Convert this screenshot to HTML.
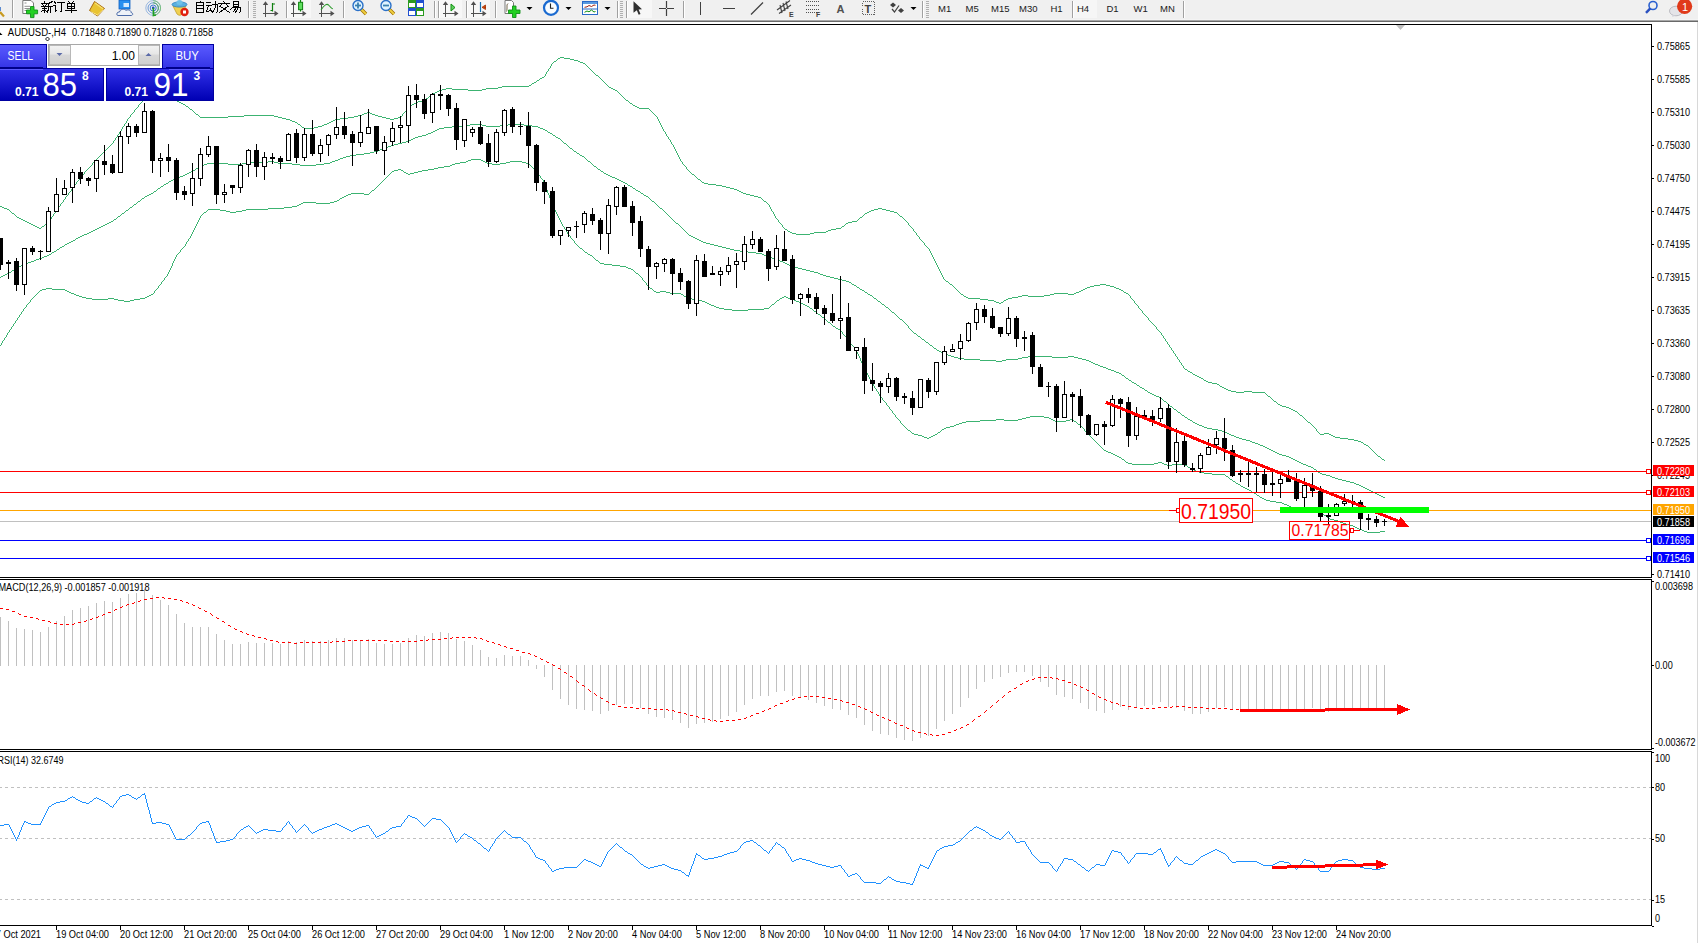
<!DOCTYPE html>
<html><head><meta charset="utf-8"><title>MT4 AUDUSD H4</title>
<style>html,body{margin:0;padding:0;background:#fff;width:1698px;height:943px;overflow:hidden}
#panel{position:absolute;left:0;top:44px;width:214px;height:57px;font-family:"Liberation Sans",sans-serif}</style></head>
<body style="position:relative">
<svg width="1698" height="943" viewBox="0 0 1698 943" font-family="Liberation Sans, sans-serif" shape-rendering="crispEdges" style="display:block">
<rect x="0" y="0" width="1698" height="943" fill="#fff"/>
<rect x="0" y="0" width="1698" height="20" fill="#f0f0f0"/>
<rect x="0" y="19" width="1698" height="1" fill="#f4f4f4"/>
<rect x="0" y="20" width="1698" height="1" fill="#a8a8a8"/>
<rect x="0" y="21" width="1698" height="1" fill="#696969"/>
<g shape-rendering="auto"><line x1="0" y1="12" x2="4" y2="16.5" stroke="#c89a20" stroke-width="2.2"/><rect x="0" y="7" width="1" height="4" fill="#5a8ad0"/></g><rect x="12" y="0" width="1" height="18" fill="#a0a0a0"/><rect x="13" y="0" width="1" height="18" fill="#ffffff"/><g shape-rendering="auto"><path d="M22.8,0.5 H31 L33.5,3 V13.5 H22.8 Z" fill="#fff" stroke="#7a7a7a" stroke-width="1"/><path d="M24.5,3 H26.5 M24.5,6.3 H30 M24.5,8.5 H30 M24.5,10.5 H27" stroke="#909090" stroke-width="1"/><path d="M30.5,6.5 H34 V10 H37.6 V13.8 H34 V17.6 H30.5 V13.8 H26.5 V10 H30.5 Z" fill="#22d022" stroke="#10901a" stroke-width="0.9"/></g><path transform="translate(41.5,1.5)" d="M3,0 V1 M0,2 H6 M1,3 L2,4 M5,3 L4,4 M0,5 H6 M1,7 H5 M3,5 V11 M3,8 L0,10 M3,8 L5,10 M11,0 L7,2 V7 L6,11 M7,5 H11 M9,5 V11" fill="none" stroke="#000" stroke-width="1" stroke-linecap="square" shape-rendering="crispEdges"/><path transform="translate(53.5,1.5)" d="M1,0 L2,2 M0,4 H2 V10 L3,9 M4,1 H11 M8,1 V10 L7,10" fill="none" stroke="#000" stroke-width="1" stroke-linecap="square" shape-rendering="crispEdges"/><path transform="translate(65.5,1.5)" d="M3,0 L4,1 M8,0 L7,1 M2,2 H9 V7 H2 Z M2,4.5 H9 M5.5,2 V11 M0,9 H11" fill="none" stroke="#000" stroke-width="1" stroke-linecap="square" shape-rendering="crispEdges"/><g shape-rendering="auto"><path d="M89.5,10.5 L94.5,1.5 L104.5,8.5 L97.5,16 Z" fill="#e9c332" stroke="#a86a10" stroke-width="1"/><path d="M90.5,11.5 L97.5,15 L103.5,9.5" fill="none" stroke="#fff2a0" stroke-width="0.8"/><path d="M95,3 L103,8.8" stroke="#f8e070" stroke-width="1.2"/></g><g shape-rendering="auto"><rect x="119" y="0" width="11" height="9" fill="#2a90f0" stroke="#1060c0" stroke-width="0.8"/><rect x="123.5" y="3" width="5.5" height="4" fill="#d8ecff"/><path d="M118,15.5 C116,15.5 116.5,11.5 119.5,12 C120,9 124.5,8.5 126,10.5 C128,9 131.5,10.5 131,12.5 C133.5,13 133,15.5 131,15.5 Z" fill="#eef2f8" stroke="#4a6aa8" stroke-width="1"/></g><g shape-rendering="auto" fill="none" stroke-width="1"><circle cx="153.2" cy="8" r="7.4" stroke="#9ab8e0"/><circle cx="153.2" cy="8" r="5.2" stroke="#6a98d8"/><circle cx="153.2" cy="8" r="3" stroke="#3a78d0"/><path d="M153.2,0.6 A7.4,7.4 0 0 1 153.2,15.4" stroke="#7ac080"/><path d="M153.2,2.8 A5.2,5.2 0 0 1 153.2,13.2" stroke="#50a860"/><circle cx="153.2" cy="8" r="1.4" fill="#2050c0" stroke="none"/><path d="M153.4,8 V15.5 L156,15" stroke="#20a020" stroke-width="1.6"/></g><g shape-rendering="auto"><path d="M173,6 L186,6 L181,15 Q179,16 177,14 Z" fill="#f0d050" stroke="#c0a030" stroke-width="0.8"/><ellipse cx="179.5" cy="4.5" rx="7.5" ry="2.6" fill="#5ab0e0" stroke="#2a80c0" stroke-width="0.8"/><ellipse cx="179.5" cy="2.5" rx="3" ry="2.5" fill="#70c0e8"/><circle cx="184.5" cy="12" r="4.2" fill="#e02010"/><rect x="183" y="10.5" width="3" height="3" fill="#fff"/></g><path transform="translate(194.5,1.5)" d="M6,0 L5,1 M2,1 H9 V11 H2 Z M2,4 H9 M2,7 H9" fill="none" stroke="#000" stroke-width="1" stroke-linecap="square" shape-rendering="crispEdges"/><path transform="translate(206.5,1.5)" d="M0,1 H4 M0,4 H5 M2,4 L0,10 L5,9 M4,7 L5,10 M6,3 H11 V10 L10,11 M9,0 V6 L6,11" fill="none" stroke="#000" stroke-width="1" stroke-linecap="square" shape-rendering="crispEdges"/><path transform="translate(218.5,1.5)" d="M5,0 L6,1 M0,2 H11 M3,3 L1,5 M8,3 L10,5 M9,5 L1,11 M2,5 L11,11" fill="none" stroke="#000" stroke-width="1" stroke-linecap="square" shape-rendering="crispEdges"/><path transform="translate(230.5,1.5)" d="M3,0 H8 V5 H3 Z M3,2.5 H8 M3,5 L0,8 M3,6 H10 V10 L9,11 M6,6 L3,10 M8,6 L5,11" fill="none" stroke="#000" stroke-width="1" stroke-linecap="square" shape-rendering="crispEdges"/><rect x="248" y="1" width="1" height="17" fill="#a0a0a0"/><rect x="249" y="1" width="1" height="17" fill="#ffffff"/><rect x="253" y="1" width="3" height="1" fill="#b0b0b0"/><rect x="253" y="3" width="3" height="1" fill="#b0b0b0"/><rect x="253" y="5" width="3" height="1" fill="#b0b0b0"/><rect x="253" y="7" width="3" height="1" fill="#b0b0b0"/><rect x="253" y="9" width="3" height="1" fill="#b0b0b0"/><rect x="253" y="11" width="3" height="1" fill="#b0b0b0"/><rect x="253" y="13" width="3" height="1" fill="#b0b0b0"/><rect x="253" y="15" width="3" height="1" fill="#b0b0b0"/><rect x="253" y="17" width="3" height="1" fill="#b0b0b0"/><rect x="265" y="2" width="1" height="15" fill="#505050"/><rect x="263" y="13" width="15" height="1" fill="#505050"/><polygon points="262.8,5 265.5,1.2 268.2,5" fill="#505050" shape-rendering="auto"/><polygon points="274.5,10.8 278.5,13.5 274.5,16.2" fill="#505050" shape-rendering="auto"/><path d="M272.5,4 H275 M272.5,3 V11.5 M270.5,10.5 H272.5" stroke="#108010" stroke-width="1.2" fill="none" shape-rendering="auto"/><rect x="286" y="1" width="1" height="17" fill="#a0a0a0"/><rect x="287" y="1" width="1" height="17" fill="#ffffff"/><rect x="288" y="0" width="23" height="18" fill="#f7f7f7"/><rect x="293" y="2" width="1" height="15" fill="#505050"/><rect x="291" y="13" width="15" height="1" fill="#505050"/><polygon points="290.8,5 293.5,1.2 296.2,5" fill="#505050" shape-rendering="auto"/><polygon points="302.5,10.8 306.5,13.5 302.5,16.2" fill="#505050" shape-rendering="auto"/><g shape-rendering="auto"><path d="M300.5,0 V2.5 M300.5,9.5 V11.5" stroke="#108010" stroke-width="1.2"/><rect x="298.6" y="2.3" width="4" height="7.4" fill="#60e060" stroke="#108010" stroke-width="1"/></g><rect x="321" y="2" width="1" height="15" fill="#505050"/><rect x="319" y="13" width="15" height="1" fill="#505050"/><polygon points="318.8,5 321.5,1.2 324.2,5" fill="#505050" shape-rendering="auto"/><polygon points="330.5,10.8 334.5,13.5 330.5,16.2" fill="#505050" shape-rendering="auto"/><path d="M321,10 Q326,2 329,5.5 T333,8.8" stroke="#2a9a2a" stroke-width="1.1" fill="none" shape-rendering="auto"/><rect x="343" y="1" width="1" height="17" fill="#a0a0a0"/><rect x="344" y="1" width="1" height="17" fill="#ffffff"/><g shape-rendering="auto"><line x1="361" y1="9" x2="366" y2="14" stroke="#a07000" stroke-width="3.4"/><line x1="361" y1="9" x2="366" y2="14" stroke="#f0d040" stroke-width="1.8"/><circle cx="358" cy="5.5" r="5" fill="#dff3ff" stroke="#2a70c8" stroke-width="1.4"/><rect x="355" y="4.6" width="6" height="1.8" fill="#3a80b0"/><rect x="357.1" y="2.5" width="1.8" height="6" fill="#3a80b0"/></g><g shape-rendering="auto"><line x1="389" y1="9" x2="394" y2="14" stroke="#a07000" stroke-width="3.4"/><line x1="389" y1="9" x2="394" y2="14" stroke="#f0d040" stroke-width="1.8"/><circle cx="386" cy="5.5" r="5" fill="#dff3ff" stroke="#2a70c8" stroke-width="1.4"/><rect x="383" y="4.6" width="6" height="1.8" fill="#3a80b0"/></g><g><rect x="408" y="0" width="8" height="8" fill="#2a9a20"/><rect x="409" y="3" width="6" height="4" fill="#fff"/><rect x="416" y="0" width="8" height="8" fill="#2050d0"/><rect x="417" y="3" width="6" height="4" fill="#fff"/><rect x="408" y="8" width="8" height="8" fill="#2050d0"/><rect x="409" y="11" width="6" height="4" fill="#fff"/><rect x="416" y="8" width="8" height="8" fill="#2a9a20"/><rect x="417" y="11" width="6" height="4" fill="#fff"/></g><rect x="434" y="1" width="1" height="17" fill="#a0a0a0"/><rect x="435" y="1" width="1" height="17" fill="#ffffff"/><rect x="438" y="1" width="1" height="17" fill="#a0a0a0"/><rect x="439" y="1" width="1" height="17" fill="#ffffff"/><rect x="440" y="0" width="22" height="18" fill="#f7f7f7"/><rect x="445" y="2" width="1" height="15" fill="#505050"/><rect x="443" y="13" width="15" height="1" fill="#505050"/><polygon points="442.8,5 445.5,1.2 448.2,5" fill="#505050" shape-rendering="auto"/><polygon points="454.5,10.8 458.5,13.5 454.5,16.2" fill="#505050" shape-rendering="auto"/><polygon points="451,4 455,7.5 451,11" fill="#60d060" stroke="#109010" stroke-width="1" shape-rendering="auto"/><rect x="466" y="1" width="1" height="17" fill="#a0a0a0"/><rect x="467" y="1" width="1" height="17" fill="#ffffff"/><rect x="468" y="0" width="22" height="18" fill="#f7f7f7"/><rect x="473" y="2" width="1" height="15" fill="#505050"/><rect x="471" y="13" width="15" height="1" fill="#505050"/><polygon points="470.8,5 473.5,1.2 476.2,5" fill="#505050" shape-rendering="auto"/><polygon points="482.5,10.8 486.5,13.5 482.5,16.2" fill="#505050" shape-rendering="auto"/><g shape-rendering="auto"><path d="M480.5,2 V12" stroke="#1a70b0" stroke-width="1.2"/><path d="M482,7.3 L485.5,5 V9.5 Z M484,7.3 H486" fill="#e05010" stroke="#a03000" stroke-width="0.8"/></g><rect x="495" y="1" width="1" height="17" fill="#a0a0a0"/><rect x="496" y="1" width="1" height="17" fill="#ffffff"/><g shape-rendering="auto"><path d="M505,0.5 H511.5 L513.5,2.5 V13.5 H505 Z" fill="#fff" stroke="#7a7a7a" stroke-width="1"/><path d="M508,3.5 Q506.5,4 507,8 Q507,11 506.5,11.5" stroke="#504020" stroke-width="0.8" fill="none"/><path d="M512.5,6 H516 V10 H520 V13.5 H516 V17.5 H512.5 V13.5 H508.5 V10 H512.5 Z" fill="#22d022" stroke="#10901a" stroke-width="0.9"/></g><polygon points="526.5,7 532.5,7 529.5,10" fill="#000" shape-rendering="auto"/><g shape-rendering="auto"><circle cx="551" cy="7.8" r="7" fill="#f8fcff" stroke="#1a6ad0" stroke-width="2.2"/><path d="M550.5,3.5 V8.2 H553.5" stroke="#202020" stroke-width="1.1" fill="none"/><rect x="549" y="0" width="4" height="1.2" fill="#1a6ad0"/></g><polygon points="565.5,7 571.5,7 568.5,10" fill="#000" shape-rendering="auto"/><g shape-rendering="auto"><rect x="582.5" y="1.5" width="15" height="13" fill="#fff" stroke="#2a6ac8" stroke-width="1"/><rect x="583" y="2" width="14" height="2" fill="#5a9ae0"/><path d="M583,9 H597" stroke="#2a6ac8" stroke-width="1"/><path d="M584.5,7.3 L587,6.8 L589,5.5 L591.5,6.5 L594,5 L595.5,5.3" stroke="#a02010" stroke-width="1" fill="none"/><path d="M584.5,12.3 L587,11 L589,11.8 L591.5,10 L594,12 L595.5,11.5" stroke="#109010" stroke-width="1" fill="none"/></g><polygon points="604.5,7 610.5,7 607.5,10" fill="#000" shape-rendering="auto"/><rect x="617" y="1" width="1" height="17" fill="#a0a0a0"/><rect x="618" y="1" width="1" height="17" fill="#ffffff"/><rect x="620" y="1" width="3" height="1" fill="#b0b0b0"/><rect x="620" y="3" width="3" height="1" fill="#b0b0b0"/><rect x="620" y="5" width="3" height="1" fill="#b0b0b0"/><rect x="620" y="7" width="3" height="1" fill="#b0b0b0"/><rect x="620" y="9" width="3" height="1" fill="#b0b0b0"/><rect x="620" y="11" width="3" height="1" fill="#b0b0b0"/><rect x="620" y="13" width="3" height="1" fill="#b0b0b0"/><rect x="620" y="15" width="3" height="1" fill="#b0b0b0"/><rect x="620" y="17" width="3" height="1" fill="#b0b0b0"/><rect x="626" y="1" width="1" height="17" fill="#a0a0a0"/><rect x="627" y="1" width="1" height="17" fill="#ffffff"/><rect x="628" y="0" width="24" height="18" fill="#f7f7f7"/><path d="M633.5,1.3 L642,9.2 L638.6,9.5 L640.5,14 L638.7,14.8 L636.8,10.3 L633.5,12.8 Z" fill="#303030" shape-rendering="auto"/><path d="M666.5,1 V16 M659,8.5 H674" stroke="#404040" stroke-width="1.2" shape-rendering="auto"/><rect x="666" y="8" width="1" height="1" fill="#f0f0f0"/><rect x="683" y="1" width="1" height="17" fill="#a0a0a0"/><rect x="684" y="1" width="1" height="17" fill="#ffffff"/><rect x="700" y="2" width="1.4" height="13" fill="#404040"/><rect x="723" y="7.6" width="12" height="1.4" fill="#404040"/><path d="M751,14.5 L763,2.5" stroke="#404040" stroke-width="1.3" shape-rendering="auto"/><g shape-rendering="auto" stroke="#404040" stroke-width="1.1" fill="none"><path d="M777,10 L790,0.5 M779,13.5 L791,5 M780,5 L782,13 M783,3 L785,11 M786,1.5 L788,9"/></g><text x="789" y="17" font-size="7" font-weight="bold" fill="#404040">E</text><g><rect x="806" y="1" width="1" height="1" fill="#505050"/><rect x="808" y="1" width="1" height="1" fill="#505050"/><rect x="810" y="1" width="1" height="1" fill="#505050"/><rect x="812" y="1" width="1" height="1" fill="#505050"/><rect x="814" y="1" width="1" height="1" fill="#505050"/><rect x="816" y="1" width="1" height="1" fill="#505050"/><rect x="818" y="1" width="1" height="1" fill="#505050"/><rect x="806" y="5" width="1" height="1" fill="#505050"/><rect x="808" y="5" width="1" height="1" fill="#505050"/><rect x="810" y="5" width="1" height="1" fill="#505050"/><rect x="812" y="5" width="1" height="1" fill="#505050"/><rect x="814" y="5" width="1" height="1" fill="#505050"/><rect x="816" y="5" width="1" height="1" fill="#505050"/><rect x="818" y="5" width="1" height="1" fill="#505050"/><rect x="806" y="9" width="1" height="1" fill="#505050"/><rect x="808" y="9" width="1" height="1" fill="#505050"/><rect x="810" y="9" width="1" height="1" fill="#505050"/><rect x="812" y="9" width="1" height="1" fill="#505050"/><rect x="814" y="9" width="1" height="1" fill="#505050"/><rect x="816" y="9" width="1" height="1" fill="#505050"/><rect x="818" y="9" width="1" height="1" fill="#505050"/><rect x="806" y="12" width="1" height="1" fill="#505050"/><rect x="808" y="12" width="1" height="1" fill="#505050"/><rect x="810" y="12" width="1" height="1" fill="#505050"/><rect x="812" y="12" width="1" height="1" fill="#505050"/><rect x="814" y="12" width="1" height="1" fill="#505050"/><rect x="816" y="12" width="1" height="1" fill="#505050"/><rect x="818" y="12" width="1" height="1" fill="#505050"/></g><text x="816" y="17" font-size="7" font-weight="bold" fill="#404040">F</text><text x="836.5" y="13" font-size="11" font-weight="bold" fill="#505050">A</text><rect x="862.5" y="1.5" width="12" height="13" fill="none" stroke="#606060" stroke-width="1" stroke-dasharray="1 1"/><text x="864.5" y="12.8" font-size="11" font-weight="bold" fill="#404040">T</text><g shape-rendering="auto" fill="#404040"><polygon points="890,5 893,2.5 896,5 893,7.5"/><polygon points="898,10.5 901,8 904,10.5 901,13"/><path d="M892,9 L894.5,12 L899,5.5" stroke="#404040" stroke-width="1.2" fill="none"/></g><polygon points="910.5,7 916.5,7 913.5,10" fill="#000" shape-rendering="auto"/><rect x="922" y="1" width="1" height="17" fill="#a0a0a0"/><rect x="923" y="1" width="1" height="17" fill="#ffffff"/><rect x="926" y="1" width="3" height="1" fill="#b0b0b0"/><rect x="926" y="3" width="3" height="1" fill="#b0b0b0"/><rect x="926" y="5" width="3" height="1" fill="#b0b0b0"/><rect x="926" y="7" width="3" height="1" fill="#b0b0b0"/><rect x="926" y="9" width="3" height="1" fill="#b0b0b0"/><rect x="926" y="11" width="3" height="1" fill="#b0b0b0"/><rect x="926" y="13" width="3" height="1" fill="#b0b0b0"/><rect x="926" y="15" width="3" height="1" fill="#b0b0b0"/><rect x="926" y="17" width="3" height="1" fill="#b0b0b0"/><text x="938" y="12" font-size="9.5" fill="#202020">M1</text><text x="965.5" y="12" font-size="9.5" fill="#202020">M5</text><text x="991" y="12" font-size="9.5" fill="#202020">M15</text><text x="1019" y="12" font-size="9.5" fill="#202020">M30</text><text x="1050.5" y="12" font-size="9.5" fill="#202020">H1</text><rect x="1072" y="1" width="1" height="17" fill="#a0a0a0"/><rect x="1073" y="1" width="1" height="17" fill="#ffffff"/><rect x="1074" y="0" width="23" height="18" fill="#f6f6f6"/><text x="1077" y="12" font-size="9.5" fill="#202020">H4</text><text x="1106.5" y="12" font-size="9.5" fill="#202020">D1</text><text x="1133.5" y="12" font-size="9.5" fill="#202020">W1</text><text x="1160" y="12" font-size="9.5" fill="#202020">MN</text><rect x="1183" y="1" width="1" height="17" fill="#a0a0a0"/><rect x="1184" y="1" width="1" height="17" fill="#ffffff"/><g shape-rendering="auto"><circle cx="1653" cy="5.5" r="4" fill="none" stroke="#2a60d0" stroke-width="1.6"/><line x1="1650.3" y1="8.3" x2="1646" y2="12.8" stroke="#2a50c0" stroke-width="2.4"/></g><g shape-rendering="auto"><ellipse cx="1676" cy="11" rx="6.5" ry="4.8" fill="#e4e4e8" stroke="#b0b0b8" stroke-width="0.8"/><path d="M1673,15 L1672,17 L1676,15.5" fill="#d0d0d8"/><circle cx="1684.6" cy="6.3" r="7.6" fill="#e03a1a"/><text x="1682" y="10.6" font-size="11" fill="#fff">1</text></g>
<rect x="1697" y="22" width="1" height="921" fill="#d8d8d8"/>
<rect x="0" y="24" width="1652" height="1" fill="#000"/>
<rect x="1651" y="24" width="1" height="554" fill="#000"/>
<rect x="0" y="577" width="1652" height="1" fill="#000"/>
<rect x="0" y="579" width="1652" height="1" fill="#000"/>
<rect x="1651" y="579" width="1" height="171" fill="#000"/>
<rect x="0" y="749" width="1652" height="1" fill="#000"/>
<rect x="0" y="751" width="1652" height="1" fill="#000"/>
<rect x="1651" y="751" width="1" height="175" fill="#000"/>
<rect x="0" y="925" width="1652" height="1" fill="#000"/>
<polygon points="1396,25 1405,25 1400.5,30" fill="#c0c0c0" shape-rendering="auto"/>
<defs><clipPath id="cm"><rect x="0" y="25" width="1651" height="552"/></clipPath><clipPath id="cmacd"><rect x="0" y="580" width="1651" height="169"/></clipPath><clipPath id="crsi"><rect x="0" y="752" width="1651" height="173"/></clipPath></defs>
<g clip-path="url(#cm)">
<path d="M200,117h28v1h-28zM278,117h4v1h-4zM348,117h6v1h-6zM382,117h4v1h-4zM398,117h3v1h-3zM33,225h2v1h-2zM244,115h30v1h-30zM358,115h4v1h-4zM375,115h3v1h-3zM150,93h2v1h-2zM433,93h2v1h-2zM529,85h2v1h-2zM446,88h6v1h-6zM486,88h12v1h-12zM611,88h2v1h-2zM1320,434h4v1h-4zM1329,434h2v1h-2zM964,296h2v1h-2zM1018,296h4v1h-4zM1028,296h16v1h-16zM25,221h2v1h-2zM852,221h5v1h-5zM1054,293h14v1h-14zM1074,293h2v1h-2zM1126,293h2v1h-2zM181,103h2v1h-2zM414,103h2v1h-2zM630,103h2v1h-2zM502,86h27v1h-27zM1212,383h5v1h-5zM439,90h3v1h-3zM468,90h14v1h-14zM615,90h2v1h-2zM7,209h2v1h-2zM874,209h4v1h-4zM882,209h4v1h-4zM304,128h10v1h-10zM1204,380h2v1h-2zM292,121h3v1h-3zM331,121h2v1h-2zM367,112h3v1h-3zM1094,285h6v1h-6zM1106,285h4v1h-4zM968,298h12v1h-12zM1008,298h4v1h-4zM1348,439h6v1h-6zM422,100h3v1h-3zM626,100h2v1h-2zM298,124h2v1h-2zM324,124h3v1h-3zM156,91h8v1h-8zM437,91h2v1h-2zM228,116h16v1h-16zM274,116h4v1h-4zM354,116h4v1h-4zM378,116h4v1h-4zM152,92h4v1h-4zM164,92h5v1h-5zM435,92h2v1h-2zM785,229h2v1h-2zM831,229h5v1h-5zM900,216h2v1h-2zM828,230h3v1h-3zM637,107h2v1h-2zM302,127h2v1h-2zM314,127h4v1h-4zM580,62h3v1h-3zM29,223h2v1h-2zM46,223h2v1h-2zM846,223h2v1h-2zM318,126h4v1h-4zM1278,404h2v1h-2zM583,63h2v1h-2zM31,224h2v1h-2zM23,220h2v1h-2zM1236,392h8v1h-8zM1252,392h13v1h-13zM1280,405h2v1h-2zM741,192h2v1h-2zM639,108h10v1h-10zM190,109h2v1h-2zM560,57h4v1h-4zM540,78h2v1h-2zM1022,295h6v1h-6zM1044,295h6v1h-6zM1340,438h8v1h-8zM1081,290h2v1h-2zM1121,290h2v1h-2zM1079,291h2v1h-2zM1087,287h3v1h-3zM1114,287h2v1h-2zM35,226h2v1h-2zM42,226h2v1h-2zM842,226h2v1h-2zM1217,384h2v1h-2zM726,187h4v1h-4zM4,208h3v1h-3zM878,208h4v1h-4zM282,118h4v1h-4zM340,118h8v1h-8zM386,118h4v1h-4zM394,118h4v1h-4zM980,299h8v1h-8zM1006,299h2v1h-2zM950,284h2v1h-2zM1100,284h6v1h-6zM1274,401h2v1h-2zM290,120h2v1h-2zM333,120h2v1h-2zM633,105h2v1h-2zM177,101h2v1h-2zM418,101h4v1h-4zM746,194h4v1h-4zM558,58h2v1h-2zM564,58h6v1h-6zM1085,288h2v1h-2zM1116,288h3v1h-3zM1231,391h5v1h-5zM1244,391h8v1h-8zM966,297h2v1h-2zM1012,297h6v1h-6zM1083,289h2v1h-2zM1119,289h2v1h-2zM19,218h2v1h-2zM996,302h3v1h-3zM1001,302h2v1h-2zM596,75h2v1h-2zM716,185h6v1h-6zM871,210h3v1h-3zM886,210h4v1h-4zM179,102h2v1h-2zM416,102h2v1h-2zM792,233h4v1h-4zM810,233h4v1h-4zM286,119h4v1h-4zM335,119h5v1h-5zM390,119h4v1h-4zM869,211h2v1h-2zM890,211h4v1h-4zM961,294h2v1h-2zM1050,294h4v1h-4zM1068,294h6v1h-6zM196,114h2v1h-2zM362,114h2v1h-2zM372,114h3v1h-3zM534,82h2v1h-2zM442,89h4v1h-4zM452,89h16v1h-16zM482,89h4v1h-4zM613,89h2v1h-2zM788,231h2v1h-2zM826,231h2v1h-2zM186,106h2v1h-2zM409,106h2v1h-2zM635,106h2v1h-2zM1197,376h2v1h-2zM430,95h2v1h-2zM946,281h2v1h-2zM327,123h2v1h-2zM754,196h4v1h-4zM698,179h2v1h-2zM1090,286h4v1h-4zM1110,286h4v1h-4zM322,125h2v1h-2zM1286,407h3v1h-3zM17,217h2v1h-2zM860,217h2v1h-2zM790,232h2v1h-2zM814,232h12v1h-12zM708,184h8v1h-8zM1185,369h2v1h-2zM12,213h2v1h-2zM865,213h2v1h-2zM730,188h4v1h-4zM867,212h2v1h-2zM894,212h3v1h-3zM1208,382h4v1h-4zM692,174h2v1h-2zM988,300h6v1h-6zM1004,300h2v1h-2zM1324,433h5v1h-5zM574,60h4v1h-4zM554,61h2v1h-2zM578,61h2v1h-2zM364,113h3v1h-3zM370,113h2v1h-2zM0,206h2v1h-2zM1188,371h2v1h-2zM426,98h2v1h-2zM1076,292h3v1h-3zM1124,292h2v1h-2zM1220,386h2v1h-2zM183,104h2v1h-2zM412,104h2v1h-2zM21,219h2v1h-2zM27,222h2v1h-2zM848,222h4v1h-4zM146,96h2v1h-2zM498,87h4v1h-4zM609,87h2v1h-2zM542,77h2v1h-2zM295,122h2v1h-2zM329,122h2v1h-2zM796,234h14v1h-14zM537,80h2v1h-2zM739,191h2v1h-2zM1199,377h2v1h-2zM1201,378h2v1h-2zM1193,374h2v1h-2zM39,228h2v1h-2zM836,228h5v1h-5zM994,301h2v1h-2zM1361,442h2v1h-2zM1289,408h2v1h-2zM570,59h4v1h-4zM758,197h3v1h-3zM743,193h3v1h-3zM734,189h3v1h-3zM737,190h2v1h-2zM1206,381h2v1h-2zM2,207h2v1h-2zM1366,445h2v1h-2zM1358,441h3v1h-3zM704,183h4v1h-4zM37,227h2v1h-2zM1295,411h2v1h-2zM1335,437h5v1h-5zM1364,444h2v1h-2zM1190,372h2v1h-2zM1293,410h2v1h-2zM750,195h4v1h-4zM1333,436h2v1h-2zM999,303h2v1h-2zM1195,375h2v1h-2zM764,201h2v1h-2zM1308,422h2v1h-2zM1354,440h4v1h-4zM1382,459h2v1h-2zM1300,415h2v1h-2zM1378,456h2v1h-2zM1224,388h2v1h-2zM722,186h4v1h-4zM1291,409h2v1h-2zM1331,435h2v1h-2zM702,182h2v1h-2zM1228,390h3v1h-3zM1222,387h2v1h-2zM1226,389h2v1h-2zM532,83h2v1h-2zM1282,406h4v1h-4zM1268,396h2v1h-2zM129,117h1v1h-1zM657,117h1v2h-1zM44,225h1v1h-1zM782,225h1v2h-1zM844,225h1v1h-1zM909,225h1v1h-1zM130,115h1v2h-1zM198,115h1v1h-1zM402,114h1v2h-1zM655,115h1v1h-1zM169,93h1v1h-1zM619,93h1v1h-1zM607,85h1v1h-1zM1130,296h1v2h-1zM49,220h1v2h-1zM778,220h1v2h-1zM906,221h1v1h-1zM920,239h1v1h-1zM960,293h1v1h-1zM140,103h1v1h-1zM608,86h1v1h-1zM550,66h1v2h-1zM587,66h1v1h-1zM57,208h1v2h-1zM771,209h1v2h-1zM122,127h1v2h-1zM662,127h1v2h-1zM126,121h1v2h-1zM659,121h1v2h-1zM143,99h1v1h-1zM175,99h1v1h-1zM425,99h1v1h-1zM625,99h1v1h-1zM133,112h1v1h-1zM194,112h1v1h-1zM404,112h1v1h-1zM652,112h1v1h-1zM952,285h1v1h-1zM1131,298h1v1h-1zM86,170h1v1h-1zM688,170h1v1h-1zM142,100h1v2h-1zM176,100h1v1h-1zM124,124h1v2h-1zM660,123h1v2h-1zM617,91h1v1h-1zM199,116h1v1h-1zM401,116h1v1h-1zM656,116h1v1h-1zM117,135h1v2h-1zM666,134h1v2h-1zM618,92h1v1h-1zM913,229h1v2h-1zM16,216h1v1h-1zM52,216h1v1h-1zM775,216h1v2h-1zM862,216h1v1h-1zM98,157h1v1h-1zM679,157h1v2h-1zM787,230h1v1h-1zM1153,324h1v1h-1zM137,107h1v1h-1zM188,107h1v1h-1zM408,107h1v1h-1zM1163,336h1v2h-1zM930,251h1v2h-1zM553,62h1v1h-1zM780,223h1v1h-1zM908,223h1v2h-1zM1317,431h1v1h-1zM123,126h1v1h-1zM301,126h1v1h-1zM661,125h1v2h-1zM548,69h1v2h-1zM590,69h1v1h-1zM1164,338h1v1h-1zM1167,342h1v2h-1zM552,63h1v1h-1zM45,224h1v1h-1zM781,224h1v1h-1zM845,224h1v1h-1zM857,220h1v1h-1zM905,220h1v1h-1zM1181,363h1v2h-1zM69,192h1v1h-1zM136,108h1v1h-1zM189,108h1v1h-1zM407,108h1v1h-1zM99,156h1v1h-1zM678,155h1v2h-1zM135,109h1v1h-1zM406,109h1v2h-1zM649,109h1v1h-1zM948,282h1v1h-1zM78,180h1v1h-1zM700,180h1v1h-1zM93,162h1v1h-1zM682,162h1v2h-1zM600,78h1v1h-1zM963,295h1v1h-1zM1129,295h1v1h-1zM957,290h1v1h-1zM15,215h1v1h-1zM53,214h1v2h-1zM774,214h1v2h-1zM863,215h1v1h-1zM899,215h1v1h-1zM1144,314h1v1h-1zM958,291h1v1h-1zM1123,291h1v1h-1zM954,287h1v1h-1zM116,137h1v1h-1zM668,137h1v2h-1zM551,64h1v2h-1zM586,65h1v1h-1zM910,226h1v1h-1zM73,186h1v2h-1zM770,207h1v2h-1zM128,118h1v1h-1zM1132,299h1v1h-1zM112,143h1v1h-1zM671,142h1v2h-1zM107,148h1v1h-1zM674,147h1v2h-1zM127,119h1v2h-1zM658,119h1v2h-1zM138,105h1v2h-1zM185,105h1v1h-1zM411,105h1v1h-1zM628,101h1v1h-1zM68,193h1v2h-1zM955,288h1v1h-1zM956,289h1v1h-1zM51,217h1v2h-1zM776,218h1v1h-1zM859,218h1v1h-1zM903,218h1v1h-1zM115,138h1v2h-1zM669,139h1v1h-1zM1315,428h1v1h-1zM1165,339h1v2h-1zM1134,301h1v2h-1zM1155,326h1v1h-1zM121,129h1v2h-1zM663,129h1v2h-1zM1169,345h1v2h-1zM545,74h1v2h-1zM74,185h1v1h-1zM9,210h1v1h-1zM56,210h1v1h-1zM141,102h1v1h-1zM629,102h1v1h-1zM96,159h1v1h-1zM680,159h1v2h-1zM916,233h1v2h-1zM10,211h1v1h-1zM55,211h1v2h-1zM772,211h1v1h-1zM1128,294h1v1h-1zM91,165h1v1h-1zM684,165h1v1h-1zM131,114h1v1h-1zM654,114h1v1h-1zM604,82h1v1h-1zM1146,316h1v1h-1zM1147,317h1v1h-1zM914,231h1v1h-1zM924,243h1v2h-1zM925,245h1v1h-1zM1266,394h1v1h-1zM110,145h1v1h-1zM673,145h1v2h-1zM148,95h1v1h-1zM171,95h1v1h-1zM621,95h1v1h-1zM125,123h1v1h-1zM297,123h1v1h-1zM66,196h1v1h-1zM134,110h1v2h-1zM192,110h1v1h-1zM650,110h1v1h-1zM79,178h1v2h-1zM149,94h1v1h-1zM170,94h1v1h-1zM432,94h1v1h-1zM620,94h1v1h-1zM953,286h1v1h-1zM300,125h1v1h-1zM937,265h1v2h-1zM902,217h1v1h-1zM915,232h1v1h-1zM75,184h1v1h-1zM938,267h1v2h-1zM85,171h1v1h-1zM689,171h1v1h-1zM89,167h1v1h-1zM686,167h1v2h-1zM1148,318h1v2h-1zM54,213h1v1h-1zM773,212h1v2h-1zM897,213h1v1h-1zM97,158h1v1h-1zM1149,320h1v1h-1zM549,68h1v1h-1zM589,68h1v1h-1zM72,188h1v1h-1zM113,141h1v2h-1zM11,212h1v1h-1zM108,147h1v1h-1zM109,146h1v1h-1zM83,174h1v1h-1zM1133,300h1v1h-1zM61,203h1v1h-1zM767,203h1v1h-1zM1319,433h1v1h-1zM556,60h1v1h-1zM1203,379h1v1h-1zM1368,446h1v1h-1zM132,113h1v1h-1zM195,113h1v1h-1zM403,113h1v1h-1zM653,113h1v1h-1zM59,206h1v1h-1zM769,205h1v2h-1zM193,111h1v1h-1zM405,111h1v1h-1zM651,111h1v1h-1zM144,98h1v1h-1zM174,98h1v1h-1zM624,98h1v1h-1zM959,292h1v1h-1zM14,214h1v1h-1zM864,214h1v1h-1zM898,214h1v1h-1zM531,84h1v1h-1zM606,84h1v1h-1zM1151,322h1v1h-1zM918,236h1v1h-1zM139,104h1v1h-1zM632,104h1v1h-1zM50,219h1v1h-1zM777,219h1v1h-1zM858,219h1v1h-1zM904,219h1v1h-1zM547,71h1v1h-1zM592,71h1v1h-1zM929,249h1v2h-1zM1176,356h1v1h-1zM1179,360h1v2h-1zM48,222h1v1h-1zM779,222h1v1h-1zM907,222h1v1h-1zM1180,362h1v1h-1zM84,172h1v2h-1zM690,172h1v1h-1zM697,178h1v1h-1zM172,96h1v1h-1zM429,96h1v1h-1zM622,96h1v1h-1zM1273,400h1v1h-1zM599,77h1v1h-1zM103,152h1v1h-1zM676,151h1v2h-1zM602,80h1v1h-1zM70,191h1v1h-1zM1313,426h1v1h-1zM927,247h1v1h-1zM931,253h1v2h-1zM546,72h1v2h-1zM594,73h1v1h-1zM1182,365h1v1h-1zM92,163h1v2h-1zM784,228h1v1h-1zM912,228h1v1h-1zM683,164h1v1h-1zM1003,301h1v1h-1zM1145,315h1v1h-1zM670,140h1v2h-1zM105,150h1v1h-1zM675,149h1v2h-1zM120,131h1v1h-1zM664,131h1v1h-1zM1166,341h1v1h-1zM667,136h1v1h-1zM1170,347h1v1h-1zM557,59h1v1h-1zM94,161h1v1h-1zM681,161h1v1h-1zM940,271h1v2h-1zM65,197h1v2h-1zM1136,304h1v1h-1zM71,189h1v2h-1zM588,67h1v1h-1zM58,207h1v1h-1zM102,153h1v1h-1zM677,153h1v2h-1zM95,160h1v1h-1zM1318,432h1v1h-1zM119,132h1v2h-1zM665,132h1v2h-1zM1168,344h1v1h-1zM90,166h1v1h-1zM685,166h1v1h-1zM1172,350h1v1h-1zM939,269h1v2h-1zM88,168h1v1h-1zM76,182h1v2h-1zM87,169h1v1h-1zM687,169h1v1h-1zM41,227h1v1h-1zM783,227h1v1h-1zM841,227h1v1h-1zM911,227h1v1h-1zM82,175h1v1h-1zM694,175h1v1h-1zM64,199h1v1h-1zM762,199h1v1h-1zM62,202h1v1h-1zM766,202h1v1h-1zM539,79h1v1h-1zM601,79h1v1h-1zM1150,321h1v1h-1zM114,140h1v1h-1zM1373,451h1v1h-1zM591,70h1v1h-1zM106,149h1v1h-1zM1156,327h1v2h-1zM1174,353h1v1h-1zM1380,457h1v1h-1zM536,81h1v1h-1zM603,81h1v1h-1zM933,257h1v2h-1zM1192,373h1v1h-1zM691,173h1v1h-1zM593,72h1v1h-1zM67,195h1v1h-1zM595,74h1v1h-1zM1183,366h1v2h-1zM60,204h1v2h-1zM942,275h1v2h-1zM101,154h1v1h-1zM1135,303h1v1h-1zM1302,416h1v1h-1zM1160,332h1v1h-1zM1161,333h1v2h-1zM1369,447h1v1h-1zM1370,448h1v1h-1zM544,76h1v1h-1zM598,76h1v1h-1zM63,200h1v2h-1zM77,181h1v1h-1zM701,181h1v1h-1zM1152,323h1v1h-1zM1297,412h1v1h-1zM919,237h1v2h-1zM1298,413h1v1h-1zM1219,385h1v1h-1zM1184,368h1v1h-1zM944,279h1v1h-1zM145,97h1v1h-1zM173,97h1v1h-1zM428,97h1v1h-1zM623,97h1v1h-1zM80,177h1v1h-1zM696,177h1v1h-1zM941,273h1v2h-1zM1137,305h1v1h-1zM1304,418h1v1h-1zM1371,449h1v1h-1zM1372,450h1v1h-1zM100,155h1v1h-1zM1154,325h1v1h-1zM118,134h1v1h-1zM1173,351h1v2h-1zM1139,308h1v1h-1zM104,151h1v1h-1zM935,261h1v2h-1zM1363,443h1v1h-1zM923,242h1v1h-1zM1157,329h1v1h-1zM1171,348h1v2h-1zM1175,354h1v2h-1zM1141,310h1v1h-1zM934,259h1v2h-1zM768,204h1v1h-1zM81,176h1v1h-1zM695,176h1v1h-1zM1158,330h1v1h-1zM1159,331h1v1h-1zM1177,357h1v2h-1zM1187,370h1v1h-1zM763,200h1v1h-1zM1143,313h1v1h-1zM1307,421h1v1h-1zM917,235h1v1h-1zM1374,452h1v1h-1zM932,255h1v2h-1zM943,277h1v2h-1zM1314,427h1v1h-1zM1381,458h1v1h-1zM949,283h1v1h-1zM605,83h1v1h-1zM1376,454h1v1h-1zM1377,455h1v1h-1zM945,280h1v1h-1zM1138,306h1v2h-1zM1162,335h1v1h-1zM1316,429h1v2h-1zM761,198h1v1h-1zM585,64h1v1h-1zM921,240h1v1h-1zM922,241h1v1h-1zM1303,417h1v1h-1zM1270,397h1v1h-1zM936,263h1v2h-1zM1299,414h1v1h-1zM1310,423h1v1h-1zM1311,424h1v1h-1zM1265,393h1v1h-1zM1276,402h1v1h-1zM111,144h1v1h-1zM672,144h1v1h-1zM1277,403h1v1h-1zM1305,419h1v1h-1zM1142,311h1v2h-1zM1306,420h1v1h-1zM1271,398h1v1h-1zM1272,399h1v1h-1zM1384,460h1v1h-1zM1312,425h1v1h-1zM926,246h1v1h-1zM1267,395h1v1h-1zM1178,359h1v1h-1zM1140,309h1v1h-1zM1375,453h1v1h-1zM928,248h1v1h-1z" fill="#3cb371"/>
<path d="M452,126h14v1h-14zM486,126h14v1h-14zM532,126h6v1h-6zM842,280h4v1h-4zM196,168h2v1h-2zM7,273h2v1h-2zM818,273h2v1h-2zM466,125h4v1h-4zM482,125h4v1h-4zM500,125h8v1h-8zM524,125h8v1h-8zM756,253h6v1h-6zM470,124h12v1h-12zM508,124h16v1h-16zM69,242h2v1h-2zM703,242h3v1h-3zM76,238h2v1h-2zM695,238h2v1h-2zM1212,429h6v1h-6zM26,263h2v1h-2zM785,263h2v1h-2zM246,162h22v1h-22zM274,162h4v1h-4zM330,162h2v1h-2zM964,359h16v1h-16zM1006,359h12v1h-12zM1082,359h4v1h-4zM996,361h6v1h-6zM1089,361h2v1h-2zM939,351h2v1h-2zM17,267h2v1h-2zM794,267h4v1h-4zM726,248h4v1h-4zM207,163h21v1h-21zM242,163h4v1h-4zM278,163h14v1h-14zM324,163h6v1h-6zM1255,443h3v1h-3zM122,213h2v1h-2zM57,249h2v1h-2zM730,249h4v1h-4zM1346,481h4v1h-4zM391,145h3v1h-3zM980,360h16v1h-16zM1002,360h4v1h-4zM1086,360h3v1h-3zM1246,440h4v1h-4zM169,181h2v1h-2zM621,181h2v1h-2zM118,216h2v1h-2zM82,235h2v1h-2zM689,235h2v1h-2zM402,142h4v1h-4zM1098,365h2v1h-2zM1218,430h4v1h-4zM52,252h2v1h-2zM748,252h8v1h-8zM1383,497h2v1h-2zM1265,447h2v1h-2zM44,256h3v1h-3zM767,256h3v1h-3zM868,294h2v1h-2zM886,307h2v1h-2zM1195,423h2v1h-2zM954,357h4v1h-4zM1022,357h6v1h-6zM1052,357h16v1h-16zM1074,357h4v1h-4zM14,269h2v1h-2zM802,269h4v1h-4zM444,127h8v1h-8zM538,127h2v1h-2zM1150,393h2v1h-2zM39,258h3v1h-3zM772,258h3v1h-3zM343,157h3v1h-3zM838,279h4v1h-4zM1116,372h3v1h-3zM1303,464h3v1h-3zM1295,460h2v1h-2zM1377,494h2v1h-2zM1108,369h3v1h-3zM9,272h2v1h-2zM814,272h4v1h-4zM154,191h2v1h-2zM638,191h2v1h-2zM1286,456h3v1h-3zM204,164h3v1h-3zM228,164h14v1h-14zM292,164h8v1h-8zM316,164h8v1h-8zM151,193h2v1h-2zM641,193h2v1h-2zM1190,420h2v1h-2zM175,178h3v1h-3zM615,178h2v1h-2zM71,241h2v1h-2zM701,241h2v1h-2zM862,290h2v1h-2zM356,154h8v1h-8zM19,266h2v1h-2zM791,266h3v1h-3zM28,262h3v1h-3zM783,262h2v1h-2zM60,247h2v1h-2zM722,247h4v1h-4zM36,259h3v1h-3zM775,259h3v1h-3zM1119,373h2v1h-2zM1242,439h4v1h-4zM78,237h2v1h-2zM693,237h2v1h-2zM109,222h2v1h-2zM164,184h2v1h-2zM178,177h2v1h-2zM612,177h3v1h-3zM364,153h6v1h-6zM577,153h2v1h-2zM73,240h2v1h-2zM699,240h2v1h-2zM335,160h3v1h-3zM1342,480h4v1h-4zM900,319h2v1h-2zM413,138h2v1h-2zM558,138h2v1h-2zM1132,382h2v1h-2zM3,275h2v1h-2zM823,275h3v1h-3zM105,224h2v1h-2zM1282,455h4v1h-4zM428,133h3v1h-3zM550,133h2v1h-2zM65,244h2v1h-2zM710,244h4v1h-4zM166,183h2v1h-2zM625,183h2v1h-2zM1308,466h3v1h-3zM93,230h2v1h-2zM1106,368h2v1h-2zM91,231h2v1h-2zM1301,463h2v1h-2zM437,129h2v1h-2zM543,129h2v1h-2zM1293,459h2v1h-2zM406,141h3v1h-3zM1375,493h2v1h-2zM1367,489h2v1h-2zM202,165h2v1h-2zM300,165h16v1h-16zM810,271h4v1h-4zM80,236h2v1h-2zM691,236h2v1h-2zM433,131h2v1h-2zM1369,490h2v1h-2zM103,225h2v1h-2zM1207,428h5v1h-5zM1361,486h2v1h-2zM951,356h3v1h-3zM1028,356h24v1h-24zM1068,356h6v1h-6zM99,227h2v1h-2zM394,144h4v1h-4zM21,265h2v1h-2zM789,265h2v1h-2zM860,289h2v1h-2zM388,146h3v1h-3zM623,182h2v1h-2zM1338,479h4v1h-4zM31,261h3v1h-3zM780,261h3v1h-3zM350,155h6v1h-6zM580,155h2v1h-2zM34,260h2v1h-2zM778,260h2v1h-2zM268,161h6v1h-6zM332,161h3v1h-3zM588,161h2v1h-2zM378,150h2v1h-2zM435,130h2v1h-2zM545,130h2v1h-2zM340,158h3v1h-3zM1182,415h2v1h-2zM1250,441h2v1h-2zM849,282h2v1h-2zM380,149h3v1h-3zM145,196h2v1h-2zM646,196h2v1h-2zM89,232h2v1h-2zM87,233h2v1h-2zM12,270h2v1h-2zM806,270h4v1h-4zM426,134h2v1h-2zM1252,442h3v1h-3zM431,132h2v1h-2zM548,132h2v1h-2zM415,137h3v1h-3zM556,137h2v1h-2zM830,277h4v1h-4zM5,274h2v1h-2zM820,274h3v1h-3zM107,223h2v1h-2zM676,223h2v1h-2zM958,358h6v1h-6zM1018,358h4v1h-4zM1078,358h4v1h-4zM1381,496h2v1h-2zM1373,492h2v1h-2zM1103,367h3v1h-3zM23,264h3v1h-3zM787,264h2v1h-2zM54,251h2v1h-2zM740,251h8v1h-8zM398,143h4v1h-4zM564,143h2v1h-2zM1335,478h3v1h-3zM142,198h2v1h-2zM1326,475h4v1h-4zM62,246h2v1h-2zM718,246h4v1h-4zM1114,371h2v1h-2zM1236,437h3v1h-3zM628,185h2v1h-2zM161,186h2v1h-2zM630,186h2v1h-2zM200,166h2v1h-2zM594,166h2v1h-2zM114,219h2v1h-2zM67,243h2v1h-2zM706,243h4v1h-4zM183,175h2v1h-2zM608,175h2v1h-2zM147,195h2v1h-2zM644,195h2v1h-2zM173,179h2v1h-2zM617,179h2v1h-2zM1091,362h2v1h-2zM946,354h2v1h-2zM149,194h2v1h-2zM126,210h2v1h-2zM422,135h4v1h-4zM553,135h2v1h-2zM418,136h4v1h-4zM1322,474h4v1h-4zM1100,366h3v1h-3zM1093,363h2v1h-2zM370,152h4v1h-4zM1379,495h2v1h-2zM1371,491h2v1h-2zM130,207h2v1h-2zM1279,454h3v1h-3zM1273,451h2v1h-2zM171,180h2v1h-2zM619,180h2v1h-2zM439,128h5v1h-5zM540,128h3v1h-3zM714,245h4v1h-4zM598,169h2v1h-2zM1332,477h3v1h-3zM191,171h2v1h-2zM601,171h2v1h-2zM411,139h2v1h-2zM1111,370h3v1h-3zM158,188h2v1h-2zM633,188h2v1h-2zM138,201h2v1h-2zM652,201h2v1h-2zM95,229h2v1h-2zM1291,458h2v1h-2zM636,190h2v1h-2zM374,151h4v1h-4zM574,151h2v1h-2zM697,239h2v1h-2zM660,208h2v1h-2zM943,353h3v1h-3zM42,257h2v1h-2zM770,257h2v1h-2zM918,336h2v1h-2zM97,228h2v1h-2zM47,255h2v1h-2zM764,255h3v1h-3zM185,174h2v1h-2zM606,174h2v1h-2zM1277,453h2v1h-2zM1199,425h3v1h-3zM1354,483h2v1h-2zM1263,446h2v1h-2zM914,333h2v1h-2zM1154,395h2v1h-2zM1231,435h3v1h-3zM1225,432h2v1h-2zM1289,457h2v1h-2zM1363,487h2v1h-2zM1365,488h2v1h-2zM1202,426h2v1h-2zM1356,484h3v1h-3zM409,140h2v1h-2zM1142,388h2v1h-2zM948,355h3v1h-3zM922,339h2v1h-2zM941,352h2v1h-2zM798,268h4v1h-4zM193,170h2v1h-2zM49,254h2v1h-2zM762,254h2v1h-2zM1095,364h3v1h-3zM1275,452h2v1h-2zM1269,449h2v1h-2zM930,345h2v1h-2zM346,156h4v1h-4zM582,156h2v1h-2zM834,278h4v1h-4zM134,204h2v1h-2zM338,159h2v1h-2zM180,176h3v1h-3zM610,176h2v1h-2zM734,250h6v1h-6zM1330,476h2v1h-2zM1239,438h3v1h-3zM189,172h2v1h-2zM84,234h3v1h-3zM934,348h2v1h-2zM1164,401h2v1h-2zM1267,448h2v1h-2zM1258,444h2v1h-2zM1318,472h2v1h-2zM1204,427h3v1h-3zM1359,485h2v1h-2zM1197,424h2v1h-2zM1350,482h4v1h-4zM1159,397h2v1h-2zM1152,394h2v1h-2zM1145,390h2v1h-2zM383,148h3v1h-3zM570,148h2v1h-2zM1222,431h3v1h-3zM1306,465h2v1h-2zM1185,417h2v1h-2zM937,350h2v1h-2zM926,342h2v1h-2zM852,284h2v1h-2zM1134,383h2v1h-2zM1,276h2v1h-2zM826,276h4v1h-4zM1271,450h2v1h-2zM111,221h2v1h-2zM1188,419h2v1h-2zM1156,396h3v1h-3zM1170,406h2v1h-2zM1311,467h2v1h-2zM1229,434h2v1h-2zM1178,412h2v1h-2zM198,167h2v1h-2zM1320,473h2v1h-2zM1174,409h2v1h-2zM1193,422h2v1h-2zM865,292h2v1h-2zM1148,392h2v1h-2zM1122,375h2v1h-2zM1234,436h2v1h-2zM1227,433h2v1h-2zM892,312h2v1h-2zM854,285h2v1h-2zM1137,385h2v1h-2zM386,147h2v1h-2zM870,295h2v1h-2zM1260,445h3v1h-3zM1126,378h2v1h-2zM1314,469h2v1h-2zM1299,462h2v1h-2zM878,301h2v1h-2zM1140,387h2v1h-2zM187,173h2v1h-2zM604,173h2v1h-2zM101,226h2v1h-2zM874,298h2v1h-2zM846,281h3v1h-3zM1129,380h2v1h-2zM1297,461h2v1h-2zM882,304h2v1h-2zM857,287h2v1h-2zM597,168h1v1h-1zM51,253h1v1h-1zM590,162h1v1h-1zM902,320h1v1h-1zM1180,413h1v1h-1zM59,248h1v1h-1zM591,163h1v1h-1zM666,213h1v1h-1zM567,145h1v1h-1zM669,216h1v1h-1zM563,142h1v1h-1zM897,316h1v1h-1zM898,317h1v1h-1zM1176,410h1v1h-1zM584,157h1v1h-1zM592,164h1v1h-1zM904,322h1v1h-1zM579,154h1v1h-1zM136,203h1v1h-1zM655,203h1v1h-1zM116,218h1v1h-1zM671,218h1v1h-1zM675,222h1v1h-1zM627,184h1v1h-1zM587,160h1v1h-1zM899,318h1v1h-1zM851,283h1v1h-1zM678,224h1v1h-1zM932,346h1v1h-1zM684,230h1v1h-1zM113,220h1v1h-1zM673,220h1v1h-1zM685,231h1v1h-1zM562,141h1v1h-1zM593,165h1v1h-1zM11,271h1v1h-1zM547,131h1v1h-1zM679,225h1v1h-1zM681,227h1v1h-1zM566,144h1v1h-1zM568,146h1v1h-1zM168,182h1v1h-1zM573,150h1v1h-1zM140,200h1v1h-1zM651,200h1v1h-1zM585,158h1v1h-1zM125,211h1v1h-1zM664,211h1v1h-1zM894,313h1v1h-1zM909,328h1v1h-1zM572,149h1v1h-1zM686,232h1v1h-1zM133,205h1v1h-1zM657,205h1v1h-1zM687,233h1v1h-1zM889,309h1v1h-1zM552,134h1v1h-1zM0,277h1v1h-1zM896,315h1v1h-1zM649,198h1v1h-1zM163,185h1v1h-1zM891,311h1v1h-1zM903,321h1v1h-1zM672,219h1v1h-1zM643,194h1v1h-1zM663,210h1v1h-1zM555,136h1v1h-1zM576,152h1v1h-1zM659,207h1v1h-1zM64,245h1v1h-1zM195,169h1v1h-1zM560,139h1v1h-1zM132,206h1v1h-1zM658,206h1v1h-1zM683,229h1v1h-1zM157,189h1v1h-1zM635,189h1v1h-1zM137,202h1v1h-1zM654,202h1v1h-1zM156,190h1v1h-1zM911,330h1v1h-1zM117,217h1v1h-1zM670,217h1v1h-1zM75,239h1v1h-1zM144,197h1v1h-1zM648,197h1v1h-1zM129,208h1v1h-1zM682,228h1v1h-1zM1316,470h1v1h-1zM160,187h1v1h-1zM632,187h1v1h-1zM905,323h1v1h-1zM906,324h1v1h-1zM561,140h1v1h-1zM1169,405h1v1h-1zM16,268h1v1h-1zM600,170h1v1h-1zM907,325h1v1h-1zM908,326h1v2h-1zM656,204h1v1h-1zM586,159h1v1h-1zM56,250h1v1h-1zM124,212h1v1h-1zM665,212h1v1h-1zM603,172h1v1h-1zM910,329h1v1h-1zM921,338h1v1h-1zM1181,414h1v1h-1zM1136,384h1v1h-1zM688,234h1v1h-1zM916,334h1v1h-1zM917,335h1v1h-1zM141,199h1v1h-1zM650,199h1v1h-1zM1161,398h1v1h-1zM912,331h1v1h-1zM864,291h1v1h-1zM1172,407h1v1h-1zM1167,403h1v1h-1zM1168,404h1v1h-1zM121,214h1v1h-1zM667,214h1v1h-1zM873,297h1v1h-1zM1162,399h1v1h-1zM933,347h1v1h-1zM1163,400h1v1h-1zM153,192h1v1h-1zM640,192h1v1h-1zM674,221h1v1h-1zM928,343h1v1h-1zM1124,376h1v1h-1zM924,340h1v1h-1zM1184,416h1v1h-1zM1139,386h1v1h-1zM128,209h1v1h-1zM662,209h1v1h-1zM890,310h1v1h-1zM596,167h1v1h-1zM920,337h1v1h-1zM120,215h1v1h-1zM668,215h1v1h-1zM885,306h1v1h-1zM867,293h1v1h-1zM881,303h1v1h-1zM1144,389h1v1h-1zM876,299h1v1h-1zM877,300h1v1h-1zM569,147h1v1h-1zM1166,402h1v1h-1zM872,296h1v1h-1zM1128,379h1v1h-1zM859,288h1v1h-1zM1187,418h1v1h-1zM680,226h1v1h-1zM856,286h1v1h-1zM936,349h1v1h-1zM1177,411h1v1h-1zM888,308h1v1h-1zM1125,377h1v1h-1zM913,332h1v1h-1zM1173,408h1v1h-1zM884,305h1v1h-1zM1192,421h1v1h-1zM895,314h1v1h-1zM1147,391h1v1h-1zM1121,374h1v1h-1zM880,302h1v1h-1zM1131,381h1v1h-1zM1317,471h1v1h-1zM929,344h1v1h-1zM1313,468h1v1h-1zM925,341h1v1h-1z" fill="#3cb371"/>
<path d="M226,211h4v1h-4zM236,211h6v1h-6zM1190,468h2v1h-2zM82,297h4v1h-4zM145,297h2v1h-2zM686,297h2v1h-2zM782,297h2v1h-2zM786,297h2v1h-2zM71,293h3v1h-3zM670,293h11v1h-11zM604,264h8v1h-8zM408,174h2v1h-2zM596,260h2v1h-2zM204,212h2v1h-2zM230,212h6v1h-6zM1132,464h22v1h-22zM1164,464h3v1h-3zM1172,464h13v1h-13zM471,159h10v1h-10zM444,166h6v1h-6zM86,298h6v1h-6zM108,298h6v1h-6zM140,298h5v1h-5zM688,298h4v1h-4zM780,298h2v1h-2zM788,298h3v1h-3zM67,291h2v1h-2zM654,291h2v1h-2zM660,291h6v1h-6zM468,160h3v1h-3zM481,160h2v1h-2zM980,420h16v1h-16zM1004,420h14v1h-14zM1053,420h2v1h-2zM1066,420h4v1h-4zM74,294h2v1h-2zM151,294h2v1h-2zM681,294h2v1h-2zM636,273h2v1h-2zM301,203h2v1h-2zM316,203h14v1h-14zM398,169h3v1h-3zM428,169h6v1h-6zM996,419h8v1h-8zM1018,419h4v1h-4zM1051,419h2v1h-2zM1070,419h3v1h-3zM344,196h2v1h-2zM620,266h6v1h-6zM42,289h4v1h-4zM52,289h13v1h-13zM297,205h2v1h-2zM719,308h5v1h-5zM764,308h5v1h-5zM810,308h2v1h-2zM303,202h13v1h-13zM330,202h4v1h-4zM455,163h5v1h-5zM487,163h5v1h-5zM500,163h6v1h-6zM526,163h3v1h-3zM1199,472h5v1h-5zM1276,502h6v1h-6zM220,210h6v1h-6zM242,210h4v1h-4zM1167,465h5v1h-5zM1185,465h2v1h-2zM40,290h2v1h-2zM65,290h2v1h-2zM959,423h3v1h-3zM732,310h16v1h-16zM1330,519h4v1h-4zM908,430h2v1h-2zM836,328h2v1h-2zM1295,509h13v1h-13zM208,209h12v1h-12zM246,209h22v1h-22zM966,421h14v1h-14zM1055,421h11v1h-11zM1074,421h2v1h-2zM705,302h2v1h-2zM799,302h2v1h-2zM944,428h2v1h-2zM626,267h2v1h-2zM92,299h16v1h-16zM114,299h4v1h-4zM134,299h6v1h-6zM692,299h6v1h-6zM791,299h3v1h-3zM351,193h13v1h-13zM79,296h3v1h-3zM147,296h2v1h-2zM684,296h2v1h-2zM784,296h2v1h-2zM1343,523h3v1h-3zM1334,520h4v1h-4zM1026,417h4v1h-4zM1044,417h5v1h-5zM342,197h2v1h-2zM268,208h16v1h-16zM950,426h4v1h-4zM714,306h2v1h-2zM807,306h2v1h-2zM1196,471h3v1h-3zM1188,467h2v1h-2zM1270,501h6v1h-6zM600,263h4v1h-4zM76,295h3v1h-3zM149,295h2v1h-2zM828,322h2v1h-2zM711,305h3v1h-3zM805,305h2v1h-2zM1030,416h14v1h-14zM124,301h6v1h-6zM702,301h3v1h-3zM796,301h3v1h-3zM394,170h4v1h-4zM401,170h2v1h-2zM422,170h6v1h-6zM912,433h2v1h-2zM1212,474h13v1h-13zM1367,532h13v1h-13zM460,162h6v1h-6zM485,162h2v1h-2zM506,162h4v1h-4zM522,162h4v1h-4zM716,307h3v1h-3zM348,194h3v1h-3zM364,194h5v1h-5zM1359,529h3v1h-3zM938,432h2v1h-2zM452,164h3v1h-3zM492,164h8v1h-8zM822,317h2v1h-2zM590,255h2v1h-2zM438,167h6v1h-6zM466,161h2v1h-2zM483,161h2v1h-2zM510,161h12v1h-12zM346,195h2v1h-2zM292,206h5v1h-5zM284,207h8v1h-8zM585,252h2v1h-2zM956,424h3v1h-3zM1078,424h2v1h-2zM707,303h2v1h-2zM801,303h2v1h-2zM924,437h3v1h-3zM929,437h2v1h-2zM580,248h2v1h-2zM724,309h8v1h-8zM748,309h16v1h-16zM118,300h6v1h-6zM130,300h4v1h-4zM698,300h4v1h-4zM777,300h2v1h-2zM794,300h2v1h-2zM1122,459h2v1h-2zM946,427h4v1h-4zM612,265h8v1h-8zM69,292h2v1h-2zM656,292h4v1h-4zM666,292h4v1h-4zM1328,518h2v1h-2zM628,268h3v1h-3zM334,201h3v1h-3zM46,288h6v1h-6zM650,288h2v1h-2zM1022,418h4v1h-4zM1049,418h2v1h-2zM1324,515h2v1h-2zM1316,511h5v1h-5zM922,436h2v1h-2zM931,436h2v1h-2zM1364,531h3v1h-3zM1380,531h5v1h-5zM299,204h2v1h-2zM1204,473h8v1h-8zM1126,462h2v1h-2zM1158,462h4v1h-4zM918,435h4v1h-4zM933,435h2v1h-2zM1346,524h4v1h-4zM1194,470h2v1h-2zM1266,500h4v1h-4zM1115,455h2v1h-2zM588,254h2v1h-2zM927,438h2v1h-2zM1308,510h8v1h-8zM337,200h2v1h-2zM404,172h2v1h-2zM414,172h4v1h-4zM1264,499h2v1h-2zM833,326h2v1h-2zM1289,506h2v1h-2zM1353,526h2v1h-2zM1192,469h2v1h-2zM1252,492h2v1h-2zM954,425h2v1h-2zM1119,457h2v1h-2zM1247,489h2v1h-2zM1128,463h4v1h-4zM1154,463h4v1h-4zM1162,463h2v1h-2zM1262,498h2v1h-2zM392,171h2v1h-2zM418,171h4v1h-4zM709,304h2v1h-2zM772,304h2v1h-2zM803,304h2v1h-2zM1287,505h2v1h-2zM450,165h2v1h-2zM1257,495h2v1h-2zM1117,456h2v1h-2zM814,311h2v1h-2zM914,434h4v1h-4zM935,434h2v1h-2zM1362,530h2v1h-2zM1245,488h2v1h-2zM372,190h2v1h-2zM1238,484h2v1h-2zM1113,454h2v1h-2zM1293,508h2v1h-2zM406,173h2v1h-2zM410,173h4v1h-4zM818,314h2v1h-2zM1108,452h3v1h-3zM1350,525h3v1h-3zM1249,490h2v1h-2zM1243,487h2v1h-2zM1111,453h2v1h-2zM1282,503h2v1h-2zM1260,497h2v1h-2zM434,168h4v1h-4zM1226,476h2v1h-2zM340,198h2v1h-2zM942,429h2v1h-2zM1357,528h2v1h-2zM1284,504h3v1h-3zM1254,493h2v1h-2zM962,422h4v1h-4zM1241,486h2v1h-2zM1236,483h2v1h-2zM838,329h2v1h-2zM631,269h2v1h-2zM1230,479h2v1h-2zM1291,507h2v1h-2zM1355,527h2v1h-2zM1106,451h2v1h-2zM1233,481h2v1h-2zM1340,522h3v1h-3zM1104,450h2v1h-2zM1338,521h2v1h-2zM195,226h1v2h-1zM564,227h1v2h-1zM206,211h1v1h-1zM555,210h1v2h-1zM33,297h1v1h-1zM37,293h1v1h-1zM153,293h1v1h-1zM172,263h1v3h-1zM185,244h1v2h-1zM577,245h1v1h-1zM389,174h1v1h-1zM538,174h1v1h-1zM174,259h1v2h-1zM556,212h1v2h-1zM184,246h1v1h-1zM578,246h1v1h-1zM531,166h1v1h-1zM32,298h1v1h-1zM183,247h1v1h-1zM579,247h1v1h-1zM39,291h1v1h-1zM154,291h1v2h-1zM375,188h1v1h-1zM546,187h1v3h-1zM899,420h1v1h-1zM1073,420h1v1h-1zM36,294h1v1h-1zM14,323h1v1h-1zM830,323h1v1h-1zM168,272h1v2h-1zM551,201h1v3h-1zM7,333h1v2h-1zM842,332h1v2h-1zM178,253h1v1h-1zM587,253h1v1h-1zM534,169h1v1h-1zM898,419h1v1h-1zM167,274h1v2h-1zM638,274h1v1h-1zM549,195h1v3h-1zM171,266h1v2h-1zM156,289h1v1h-1zM652,289h1v1h-1zM552,204h1v2h-1zM24,308h1v1h-1zM4,338h1v2h-1zM846,337h1v2h-1zM203,213h1v1h-1zM207,210h1v1h-1zM0,345h1v1h-1zM852,345h1v1h-1zM202,214h1v1h-1zM557,214h1v2h-1zM155,290h1v1h-1zM653,290h1v1h-1zM382,181h1v1h-1zM543,180h1v2h-1zM176,255h1v2h-1zM592,256h1v1h-1zM901,423h1v1h-1zM1077,423h1v1h-1zM23,309h1v2h-1zM813,310h1v1h-1zM941,430h1v1h-1zM1084,429h1v2h-1zM11,327h1v2h-1zM910,431h1v1h-1zM940,431h1v1h-1zM1085,431h1v1h-1zM554,208h1v2h-1zM169,270h1v2h-1zM633,270h1v1h-1zM900,421h1v2h-1zM29,302h1v1h-1zM775,302h1v1h-1zM906,428h1v1h-1zM1083,428h1v1h-1zM31,299h1v1h-1zM779,299h1v1h-1zM369,193h1v1h-1zM548,193h1v2h-1zM34,296h1v1h-1zM173,261h1v2h-1zM599,262h1v1h-1zM896,417h1v1h-1zM387,176h1v1h-1zM540,176h1v2h-1zM1321,512h1v1h-1zM887,405h1v1h-1zM381,182h1v1h-1zM544,182h1v2h-1zM904,426h1v1h-1zM1081,426h1v1h-1zM197,222h1v2h-1zM561,222h1v2h-1zM13,324h1v2h-1zM832,325h1v1h-1zM166,276h1v1h-1zM640,276h1v1h-1zM858,354h1v2h-1zM26,305h1v2h-1zM770,306h1v1h-1zM193,230h1v2h-1zM566,230h1v2h-1zM19,315h1v2h-1zM820,315h1v1h-1zM35,295h1v1h-1zM683,295h1v1h-1zM175,257h1v2h-1zM594,258h1v1h-1zM15,321h1v2h-1zM1124,460h1v1h-1zM771,305h1v1h-1zM895,415h1v2h-1zM30,300h1v2h-1zM776,301h1v1h-1zM535,170h1v1h-1zM937,433h1v1h-1zM1087,433h1v1h-1zM25,307h1v1h-1zM769,307h1v1h-1zM809,307h1v1h-1zM164,278h1v2h-1zM642,278h1v2h-1zM192,232h1v2h-1zM567,232h1v2h-1zM911,432h1v1h-1zM1086,432h1v1h-1zM529,164h1v1h-1zM18,317h1v1h-1zM188,239h1v2h-1zM573,240h1v1h-1zM874,386h1v2h-1zM384,179h1v1h-1zM542,179h1v1h-1zM875,388h1v1h-1zM878,392h1v2h-1zM383,180h1v1h-1zM532,167h1v1h-1zM889,407h1v2h-1zM8,332h1v1h-1zM9,330h1v2h-1zM841,331h1v1h-1zM860,358h1v3h-1zM553,206h1v2h-1zM5,337h1v1h-1zM158,286h1v2h-1zM649,287h1v1h-1zM191,234h1v2h-1zM569,235h1v1h-1zM867,373h1v2h-1zM1,343h1v2h-1zM851,344h1v1h-1zM179,252h1v1h-1zM902,424h1v1h-1zM186,242h1v2h-1zM574,241h1v2h-1zM28,303h1v1h-1zM774,303h1v1h-1zM1091,437h1v1h-1zM182,248h1v1h-1zM374,189h1v1h-1zM812,309h1v1h-1zM877,391h1v1h-1zM881,397h1v1h-1zM891,410h1v1h-1zM6,335h1v2h-1zM844,335h1v1h-1zM905,427h1v1h-1zM1082,427h1v1h-1zM162,281h1v1h-1zM644,281h1v1h-1zM869,377h1v2h-1zM196,224h1v2h-1zM562,224h1v2h-1zM38,292h1v1h-1zM634,271h1v1h-1zM170,268h1v2h-1zM157,288h1v1h-1zM572,239h1v1h-1zM897,418h1v1h-1zM1323,514h1v1h-1zM1090,436h1v1h-1zM893,413h1v1h-1zM894,414h1v1h-1zM850,342h1v2h-1zM160,284h1v1h-1zM646,283h1v2h-1zM568,234h1v1h-1zM194,228h1v2h-1zM187,241h1v1h-1zM200,216h1v2h-1zM558,216h1v2h-1zM380,183h1v1h-1zM1259,496h1v1h-1zM1089,435h1v1h-1zM371,191h1v1h-1zM547,190h1v3h-1zM593,257h1v1h-1zM1187,466h1v1h-1zM199,218h1v2h-1zM559,218h1v2h-1zM885,402h1v1h-1zM3,340h1v1h-1zM848,340h1v1h-1zM648,286h1v1h-1zM177,254h1v1h-1zM1092,438h1v1h-1zM385,178h1v1h-1zM541,178h1v1h-1zM831,324h1v1h-1zM550,198h1v3h-1zM379,184h1v1h-1zM545,184h1v3h-1zM821,316h1v1h-1zM391,172h1v1h-1zM537,172h1v2h-1zM635,272h1v1h-1zM12,326h1v1h-1zM1098,444h1v1h-1zM1125,461h1v1h-1zM2,341h1v2h-1zM854,347h1v2h-1zM161,282h1v2h-1zM645,282h1v1h-1zM879,394h1v2h-1zM903,425h1v1h-1zM1080,425h1v1h-1zM180,250h1v2h-1zM583,250h1v1h-1zM849,341h1v1h-1zM868,375h1v2h-1zM871,381h1v2h-1zM1326,516h1v1h-1zM1327,517h1v1h-1zM386,177h1v1h-1zM1322,513h1v1h-1zM403,171h1v1h-1zM536,171h1v1h-1zM339,199h1v1h-1zM27,304h1v1h-1zM21,312h1v2h-1zM816,312h1v1h-1zM530,165h1v1h-1zM873,384h1v2h-1zM17,318h1v2h-1zM825,319h1v1h-1zM595,259h1v1h-1zM22,311h1v1h-1zM1088,434h1v1h-1zM862,363h1v2h-1zM883,400h1v1h-1zM1094,440h1v1h-1zM835,327h1v1h-1zM181,249h1v1h-1zM582,249h1v1h-1zM163,280h1v1h-1zM643,280h1v1h-1zM843,334h1v1h-1zM864,367h1v2h-1zM861,361h1v2h-1zM201,215h1v1h-1zM378,185h1v1h-1zM390,173h1v1h-1zM20,314h1v1h-1zM1096,442h1v1h-1zM563,226h1v1h-1zM1097,443h1v1h-1zM824,318h1v1h-1zM190,236h1v2h-1zM570,236h1v2h-1zM1251,491h1v1h-1zM198,220h1v2h-1zM560,220h1v2h-1zM1103,449h1v1h-1zM16,320h1v1h-1zM826,320h1v1h-1zM639,275h1v1h-1zM870,379h1v2h-1zM840,330h1v1h-1zM159,285h1v1h-1zM647,285h1v1h-1zM1099,445h1v1h-1zM598,261h1v1h-1zM533,168h1v1h-1zM576,244h1v1h-1zM584,251h1v1h-1zM817,313h1v1h-1zM907,429h1v1h-1zM872,383h1v1h-1zM1256,494h1v1h-1zM890,409h1v1h-1zM1076,422h1v1h-1zM853,346h1v1h-1zM857,352h1v2h-1zM882,398h1v2h-1zM10,329h1v1h-1zM1093,439h1v1h-1zM1232,480h1v1h-1zM855,349h1v1h-1zM856,350h1v2h-1zM863,365h1v2h-1zM866,371h1v2h-1zM880,396h1v1h-1zM1121,458h1v1h-1zM1228,477h1v1h-1zM1095,441h1v1h-1zM376,187h1v1h-1zM1101,447h1v1h-1zM1102,448h1v1h-1zM865,369h1v2h-1zM1229,478h1v1h-1zM886,403h1v2h-1zM377,186h1v1h-1zM1225,475h1v1h-1zM565,229h1v1h-1zM575,243h1v1h-1zM884,401h1v1h-1zM165,277h1v1h-1zM641,277h1v1h-1zM859,356h1v2h-1zM189,238h1v1h-1zM571,238h1v1h-1zM1235,482h1v1h-1zM388,175h1v1h-1zM539,175h1v1h-1zM876,389h1v2h-1zM370,192h1v1h-1zM827,321h1v1h-1zM888,406h1v1h-1zM1240,485h1v1h-1zM892,411h1v2h-1zM845,336h1v1h-1zM1100,446h1v1h-1zM847,339h1v1h-1z" fill="#3cb371"/>
</g>
<rect x="0" y="471" width="1651" height="1" fill="#ff0000"/>
<rect x="0" y="492" width="1651" height="1" fill="#ff0000"/>
<rect x="0" y="510" width="1651" height="1" fill="#ffa500"/>
<rect x="0" y="521" width="1651" height="1" fill="#c0c0c0"/>
<rect x="0" y="540" width="1651" height="1" fill="#0000ff"/>
<rect x="0" y="558" width="1651" height="1" fill="#0000ff"/>
<g clip-path="url(#cm)">
<rect x="0" y="238" width="1" height="32" fill="#000"/>
<rect x="-2" y="238" width="5" height="27" fill="#000"/>
<rect x="8" y="260" width="1" height="19" fill="#000"/>
<rect x="6" y="262" width="5" height="2" fill="#000"/>
<rect x="16" y="258" width="1" height="33" fill="#000"/>
<rect x="14" y="261" width="5" height="24" fill="#000"/>
<rect x="24" y="248" width="1" height="47" fill="#000"/>
<rect x="22" y="248" width="5" height="37" fill="#000"/>
<rect x="23" y="249" width="3" height="35" fill="#fff"/>
<rect x="32" y="246" width="1" height="9" fill="#000"/>
<rect x="30" y="248" width="5" height="4" fill="#000"/>
<rect x="40" y="250" width="1" height="10" fill="#000"/>
<rect x="38" y="251" width="5" height="1" fill="#000"/>
<rect x="48" y="207" width="1" height="45" fill="#000"/>
<rect x="46" y="211" width="5" height="41" fill="#000"/>
<rect x="47" y="212" width="3" height="39" fill="#fff"/>
<rect x="56" y="178" width="1" height="34" fill="#000"/>
<rect x="54" y="194" width="5" height="18" fill="#000"/>
<rect x="55" y="195" width="3" height="16" fill="#fff"/>
<rect x="64" y="180" width="1" height="15" fill="#000"/>
<rect x="62" y="188" width="5" height="7" fill="#000"/>
<rect x="63" y="189" width="3" height="5" fill="#fff"/>
<rect x="72" y="169" width="1" height="34" fill="#000"/>
<rect x="70" y="172" width="5" height="16" fill="#000"/>
<rect x="71" y="173" width="3" height="14" fill="#fff"/>
<rect x="80" y="167" width="1" height="17" fill="#000"/>
<rect x="78" y="172" width="5" height="7" fill="#000"/>
<rect x="88" y="177" width="1" height="9" fill="#000"/>
<rect x="86" y="178" width="5" height="3" fill="#000"/>
<rect x="96" y="160" width="1" height="32" fill="#000"/>
<rect x="94" y="160" width="5" height="19" fill="#000"/>
<rect x="95" y="161" width="3" height="17" fill="#fff"/>
<rect x="104" y="145" width="1" height="30" fill="#000"/>
<rect x="102" y="161" width="5" height="4" fill="#000"/>
<rect x="112" y="155" width="1" height="19" fill="#000"/>
<rect x="110" y="164" width="5" height="9" fill="#000"/>
<rect x="120" y="131" width="1" height="42" fill="#000"/>
<rect x="118" y="136" width="5" height="37" fill="#000"/>
<rect x="119" y="137" width="3" height="35" fill="#fff"/>
<rect x="128" y="123" width="1" height="21" fill="#000"/>
<rect x="126" y="126" width="5" height="11" fill="#000"/>
<rect x="127" y="127" width="3" height="9" fill="#fff"/>
<rect x="136" y="124" width="1" height="13" fill="#000"/>
<rect x="134" y="126" width="5" height="7" fill="#000"/>
<rect x="144" y="103" width="1" height="30" fill="#000"/>
<rect x="142" y="111" width="5" height="22" fill="#000"/>
<rect x="143" y="112" width="3" height="20" fill="#fff"/>
<rect x="152" y="110" width="1" height="63" fill="#000"/>
<rect x="150" y="111" width="5" height="50" fill="#000"/>
<rect x="160" y="153" width="1" height="24" fill="#000"/>
<rect x="158" y="158" width="5" height="3" fill="#000"/>
<rect x="159" y="159" width="3" height="1" fill="#fff"/>
<rect x="168" y="144" width="1" height="28" fill="#000"/>
<rect x="166" y="157" width="5" height="4" fill="#000"/>
<rect x="176" y="158" width="1" height="42" fill="#000"/>
<rect x="174" y="160" width="5" height="33" fill="#000"/>
<rect x="184" y="186" width="1" height="14" fill="#000"/>
<rect x="182" y="191" width="5" height="4" fill="#000"/>
<rect x="192" y="163" width="1" height="43" fill="#000"/>
<rect x="190" y="178" width="5" height="16" fill="#000"/>
<rect x="191" y="179" width="3" height="14" fill="#fff"/>
<rect x="200" y="148" width="1" height="38" fill="#000"/>
<rect x="198" y="154" width="5" height="25" fill="#000"/>
<rect x="199" y="155" width="3" height="23" fill="#fff"/>
<rect x="208" y="136" width="1" height="21" fill="#000"/>
<rect x="206" y="146" width="5" height="9" fill="#000"/>
<rect x="207" y="147" width="3" height="7" fill="#fff"/>
<rect x="216" y="146" width="1" height="58" fill="#000"/>
<rect x="214" y="146" width="5" height="49" fill="#000"/>
<rect x="224" y="184" width="1" height="19" fill="#000"/>
<rect x="222" y="192" width="5" height="3" fill="#000"/>
<rect x="223" y="193" width="3" height="1" fill="#fff"/>
<rect x="232" y="185" width="1" height="9" fill="#000"/>
<rect x="230" y="185" width="5" height="3" fill="#000"/>
<rect x="240" y="163" width="1" height="30" fill="#000"/>
<rect x="238" y="165" width="5" height="23" fill="#000"/>
<rect x="239" y="166" width="3" height="21" fill="#fff"/>
<rect x="248" y="149" width="1" height="28" fill="#000"/>
<rect x="246" y="150" width="5" height="15" fill="#000"/>
<rect x="247" y="151" width="3" height="13" fill="#fff"/>
<rect x="256" y="144" width="1" height="33" fill="#000"/>
<rect x="254" y="150" width="5" height="17" fill="#000"/>
<rect x="264" y="152" width="1" height="28" fill="#000"/>
<rect x="262" y="157" width="5" height="10" fill="#000"/>
<rect x="263" y="158" width="3" height="8" fill="#fff"/>
<rect x="272" y="153" width="1" height="11" fill="#000"/>
<rect x="270" y="157" width="5" height="2" fill="#000"/>
<rect x="280" y="156" width="1" height="13" fill="#000"/>
<rect x="278" y="158" width="5" height="4" fill="#000"/>
<rect x="288" y="133" width="1" height="28" fill="#000"/>
<rect x="286" y="134" width="5" height="27" fill="#000"/>
<rect x="287" y="135" width="3" height="25" fill="#fff"/>
<rect x="296" y="129" width="1" height="34" fill="#000"/>
<rect x="294" y="133" width="5" height="25" fill="#000"/>
<rect x="304" y="128" width="1" height="33" fill="#000"/>
<rect x="302" y="134" width="5" height="24" fill="#000"/>
<rect x="303" y="135" width="3" height="22" fill="#fff"/>
<rect x="312" y="120" width="1" height="36" fill="#000"/>
<rect x="310" y="134" width="5" height="20" fill="#000"/>
<rect x="320" y="139" width="1" height="23" fill="#000"/>
<rect x="318" y="145" width="5" height="9" fill="#000"/>
<rect x="319" y="146" width="3" height="7" fill="#fff"/>
<rect x="328" y="134" width="1" height="22" fill="#000"/>
<rect x="326" y="135" width="5" height="10" fill="#000"/>
<rect x="327" y="136" width="3" height="8" fill="#fff"/>
<rect x="336" y="107" width="1" height="32" fill="#000"/>
<rect x="334" y="127" width="5" height="8" fill="#000"/>
<rect x="335" y="128" width="3" height="6" fill="#fff"/>
<rect x="344" y="112" width="1" height="27" fill="#000"/>
<rect x="342" y="126" width="5" height="9" fill="#000"/>
<rect x="352" y="131" width="1" height="35" fill="#000"/>
<rect x="350" y="134" width="5" height="9" fill="#000"/>
<rect x="360" y="115" width="1" height="32" fill="#000"/>
<rect x="358" y="132" width="5" height="11" fill="#000"/>
<rect x="359" y="133" width="3" height="9" fill="#fff"/>
<rect x="368" y="109" width="1" height="25" fill="#000"/>
<rect x="366" y="127" width="5" height="7" fill="#000"/>
<rect x="367" y="128" width="3" height="5" fill="#fff"/>
<rect x="376" y="126" width="1" height="28" fill="#000"/>
<rect x="374" y="126" width="5" height="25" fill="#000"/>
<rect x="384" y="136" width="1" height="39" fill="#000"/>
<rect x="382" y="142" width="5" height="9" fill="#000"/>
<rect x="383" y="143" width="3" height="7" fill="#fff"/>
<rect x="392" y="122" width="1" height="24" fill="#000"/>
<rect x="390" y="128" width="5" height="14" fill="#000"/>
<rect x="391" y="129" width="3" height="12" fill="#fff"/>
<rect x="400" y="116" width="1" height="27" fill="#000"/>
<rect x="398" y="125" width="5" height="3" fill="#000"/>
<rect x="399" y="126" width="3" height="1" fill="#fff"/>
<rect x="408" y="86" width="1" height="57" fill="#000"/>
<rect x="406" y="95" width="5" height="31" fill="#000"/>
<rect x="407" y="96" width="3" height="29" fill="#fff"/>
<rect x="416" y="84" width="1" height="24" fill="#000"/>
<rect x="414" y="95" width="5" height="5" fill="#000"/>
<rect x="424" y="94" width="1" height="25" fill="#000"/>
<rect x="422" y="99" width="5" height="15" fill="#000"/>
<rect x="432" y="93" width="1" height="30" fill="#000"/>
<rect x="430" y="94" width="5" height="19" fill="#000"/>
<rect x="431" y="95" width="3" height="17" fill="#fff"/>
<rect x="440" y="85" width="1" height="25" fill="#000"/>
<rect x="438" y="94" width="5" height="2" fill="#000"/>
<rect x="448" y="94" width="1" height="22" fill="#000"/>
<rect x="446" y="95" width="5" height="14" fill="#000"/>
<rect x="456" y="103" width="1" height="47" fill="#000"/>
<rect x="454" y="108" width="5" height="32" fill="#000"/>
<rect x="464" y="119" width="1" height="28" fill="#000"/>
<rect x="462" y="119" width="5" height="22" fill="#000"/>
<rect x="463" y="120" width="3" height="20" fill="#fff"/>
<rect x="472" y="127" width="1" height="10" fill="#000"/>
<rect x="470" y="129" width="5" height="4" fill="#000"/>
<rect x="471" y="130" width="3" height="2" fill="#fff"/>
<rect x="480" y="121" width="1" height="24" fill="#000"/>
<rect x="478" y="127" width="5" height="17" fill="#000"/>
<rect x="488" y="134" width="1" height="33" fill="#000"/>
<rect x="486" y="143" width="5" height="19" fill="#000"/>
<rect x="496" y="129" width="1" height="34" fill="#000"/>
<rect x="494" y="132" width="5" height="30" fill="#000"/>
<rect x="495" y="133" width="3" height="28" fill="#fff"/>
<rect x="504" y="109" width="1" height="27" fill="#000"/>
<rect x="502" y="110" width="5" height="23" fill="#000"/>
<rect x="503" y="111" width="3" height="21" fill="#fff"/>
<rect x="512" y="107" width="1" height="26" fill="#000"/>
<rect x="510" y="109" width="5" height="18" fill="#000"/>
<rect x="520" y="122" width="1" height="13" fill="#000"/>
<rect x="518" y="126" width="5" height="1" fill="#000"/>
<rect x="528" y="112" width="1" height="56" fill="#000"/>
<rect x="526" y="126" width="5" height="20" fill="#000"/>
<rect x="536" y="144" width="1" height="47" fill="#000"/>
<rect x="534" y="145" width="5" height="38" fill="#000"/>
<rect x="544" y="180" width="1" height="24" fill="#000"/>
<rect x="542" y="182" width="5" height="10" fill="#000"/>
<rect x="552" y="187" width="1" height="51" fill="#000"/>
<rect x="550" y="191" width="5" height="45" fill="#000"/>
<rect x="560" y="230" width="1" height="15" fill="#000"/>
<rect x="558" y="230" width="5" height="6" fill="#000"/>
<rect x="559" y="231" width="3" height="4" fill="#fff"/>
<rect x="568" y="227" width="1" height="10" fill="#000"/>
<rect x="566" y="227" width="5" height="4" fill="#000"/>
<rect x="567" y="228" width="3" height="2" fill="#fff"/>
<rect x="576" y="221" width="1" height="17" fill="#000"/>
<rect x="574" y="226" width="5" height="1" fill="#000"/>
<rect x="584" y="211" width="1" height="22" fill="#000"/>
<rect x="582" y="213" width="5" height="12" fill="#000"/>
<rect x="583" y="214" width="3" height="10" fill="#fff"/>
<rect x="592" y="208" width="1" height="17" fill="#000"/>
<rect x="590" y="214" width="5" height="7" fill="#000"/>
<rect x="600" y="218" width="1" height="32" fill="#000"/>
<rect x="598" y="220" width="5" height="14" fill="#000"/>
<rect x="608" y="199" width="1" height="55" fill="#000"/>
<rect x="606" y="205" width="5" height="29" fill="#000"/>
<rect x="607" y="206" width="3" height="27" fill="#fff"/>
<rect x="616" y="186" width="1" height="29" fill="#000"/>
<rect x="614" y="187" width="5" height="20" fill="#000"/>
<rect x="615" y="188" width="3" height="18" fill="#fff"/>
<rect x="624" y="185" width="1" height="22" fill="#000"/>
<rect x="622" y="187" width="5" height="20" fill="#000"/>
<rect x="632" y="201" width="1" height="35" fill="#000"/>
<rect x="630" y="206" width="5" height="17" fill="#000"/>
<rect x="640" y="216" width="1" height="41" fill="#000"/>
<rect x="638" y="221" width="5" height="28" fill="#000"/>
<rect x="648" y="246" width="1" height="44" fill="#000"/>
<rect x="646" y="249" width="5" height="18" fill="#000"/>
<rect x="656" y="262" width="1" height="17" fill="#000"/>
<rect x="654" y="263" width="5" height="4" fill="#000"/>
<rect x="655" y="264" width="3" height="2" fill="#fff"/>
<rect x="664" y="258" width="1" height="14" fill="#000"/>
<rect x="662" y="259" width="5" height="5" fill="#000"/>
<rect x="663" y="260" width="3" height="3" fill="#fff"/>
<rect x="672" y="258" width="1" height="37" fill="#000"/>
<rect x="670" y="259" width="5" height="15" fill="#000"/>
<rect x="680" y="268" width="1" height="22" fill="#000"/>
<rect x="678" y="273" width="5" height="9" fill="#000"/>
<rect x="688" y="280" width="1" height="29" fill="#000"/>
<rect x="686" y="281" width="5" height="23" fill="#000"/>
<rect x="696" y="255" width="1" height="61" fill="#000"/>
<rect x="694" y="260" width="5" height="44" fill="#000"/>
<rect x="695" y="261" width="3" height="42" fill="#fff"/>
<rect x="704" y="254" width="1" height="23" fill="#000"/>
<rect x="702" y="261" width="5" height="16" fill="#000"/>
<rect x="712" y="266" width="1" height="9" fill="#000"/>
<rect x="710" y="273" width="5" height="2" fill="#000"/>
<rect x="720" y="267" width="1" height="19" fill="#000"/>
<rect x="718" y="271" width="5" height="4" fill="#000"/>
<rect x="719" y="272" width="3" height="2" fill="#fff"/>
<rect x="728" y="257" width="1" height="18" fill="#000"/>
<rect x="726" y="265" width="5" height="7" fill="#000"/>
<rect x="727" y="266" width="3" height="5" fill="#fff"/>
<rect x="736" y="253" width="1" height="35" fill="#000"/>
<rect x="734" y="261" width="5" height="4" fill="#000"/>
<rect x="735" y="262" width="3" height="2" fill="#fff"/>
<rect x="744" y="236" width="1" height="34" fill="#000"/>
<rect x="742" y="244" width="5" height="18" fill="#000"/>
<rect x="743" y="245" width="3" height="16" fill="#fff"/>
<rect x="752" y="231" width="1" height="18" fill="#000"/>
<rect x="750" y="239" width="5" height="6" fill="#000"/>
<rect x="751" y="240" width="3" height="4" fill="#fff"/>
<rect x="760" y="237" width="1" height="15" fill="#000"/>
<rect x="758" y="239" width="5" height="13" fill="#000"/>
<rect x="768" y="249" width="1" height="32" fill="#000"/>
<rect x="766" y="251" width="5" height="18" fill="#000"/>
<rect x="776" y="235" width="1" height="35" fill="#000"/>
<rect x="774" y="248" width="5" height="19" fill="#000"/>
<rect x="775" y="249" width="3" height="17" fill="#fff"/>
<rect x="784" y="231" width="1" height="30" fill="#000"/>
<rect x="782" y="249" width="5" height="12" fill="#000"/>
<rect x="792" y="255" width="1" height="49" fill="#000"/>
<rect x="790" y="259" width="5" height="41" fill="#000"/>
<rect x="800" y="293" width="1" height="23" fill="#000"/>
<rect x="798" y="294" width="5" height="5" fill="#000"/>
<rect x="799" y="295" width="3" height="3" fill="#fff"/>
<rect x="808" y="288" width="1" height="15" fill="#000"/>
<rect x="806" y="294" width="5" height="4" fill="#000"/>
<rect x="816" y="293" width="1" height="21" fill="#000"/>
<rect x="814" y="297" width="5" height="12" fill="#000"/>
<rect x="824" y="305" width="1" height="20" fill="#000"/>
<rect x="822" y="308" width="5" height="6" fill="#000"/>
<rect x="832" y="294" width="1" height="29" fill="#000"/>
<rect x="830" y="313" width="5" height="8" fill="#000"/>
<rect x="840" y="276" width="1" height="63" fill="#000"/>
<rect x="838" y="318" width="5" height="3" fill="#000"/>
<rect x="839" y="319" width="3" height="1" fill="#fff"/>
<rect x="848" y="303" width="1" height="48" fill="#000"/>
<rect x="846" y="317" width="5" height="34" fill="#000"/>
<rect x="856" y="347" width="1" height="12" fill="#000"/>
<rect x="854" y="347" width="5" height="4" fill="#000"/>
<rect x="855" y="348" width="3" height="2" fill="#fff"/>
<rect x="864" y="338" width="1" height="56" fill="#000"/>
<rect x="862" y="347" width="5" height="34" fill="#000"/>
<rect x="872" y="363" width="1" height="28" fill="#000"/>
<rect x="870" y="380" width="5" height="4" fill="#000"/>
<rect x="880" y="381" width="1" height="22" fill="#000"/>
<rect x="878" y="383" width="5" height="4" fill="#000"/>
<rect x="888" y="373" width="1" height="20" fill="#000"/>
<rect x="886" y="378" width="5" height="9" fill="#000"/>
<rect x="887" y="379" width="3" height="7" fill="#fff"/>
<rect x="896" y="377" width="1" height="24" fill="#000"/>
<rect x="894" y="378" width="5" height="19" fill="#000"/>
<rect x="904" y="393" width="1" height="11" fill="#000"/>
<rect x="902" y="396" width="5" height="2" fill="#000"/>
<rect x="912" y="391" width="1" height="24" fill="#000"/>
<rect x="910" y="398" width="5" height="10" fill="#000"/>
<rect x="920" y="379" width="1" height="29" fill="#000"/>
<rect x="918" y="379" width="5" height="29" fill="#000"/>
<rect x="919" y="380" width="3" height="27" fill="#fff"/>
<rect x="928" y="378" width="1" height="20" fill="#000"/>
<rect x="926" y="380" width="5" height="12" fill="#000"/>
<rect x="936" y="362" width="1" height="33" fill="#000"/>
<rect x="934" y="362" width="5" height="30" fill="#000"/>
<rect x="935" y="363" width="3" height="28" fill="#fff"/>
<rect x="944" y="346" width="1" height="19" fill="#000"/>
<rect x="942" y="351" width="5" height="12" fill="#000"/>
<rect x="943" y="352" width="3" height="10" fill="#fff"/>
<rect x="952" y="344" width="1" height="8" fill="#000"/>
<rect x="950" y="349" width="5" height="3" fill="#000"/>
<rect x="951" y="350" width="3" height="1" fill="#fff"/>
<rect x="960" y="334" width="1" height="26" fill="#000"/>
<rect x="958" y="341" width="5" height="8" fill="#000"/>
<rect x="959" y="342" width="3" height="6" fill="#fff"/>
<rect x="968" y="322" width="1" height="20" fill="#000"/>
<rect x="966" y="323" width="5" height="18" fill="#000"/>
<rect x="967" y="324" width="3" height="16" fill="#fff"/>
<rect x="976" y="303" width="1" height="27" fill="#000"/>
<rect x="974" y="309" width="5" height="14" fill="#000"/>
<rect x="975" y="310" width="3" height="12" fill="#fff"/>
<rect x="984" y="305" width="1" height="18" fill="#000"/>
<rect x="982" y="309" width="5" height="8" fill="#000"/>
<rect x="992" y="308" width="1" height="21" fill="#000"/>
<rect x="990" y="316" width="5" height="12" fill="#000"/>
<rect x="1000" y="327" width="1" height="10" fill="#000"/>
<rect x="998" y="327" width="5" height="7" fill="#000"/>
<rect x="1008" y="307" width="1" height="29" fill="#000"/>
<rect x="1006" y="318" width="5" height="16" fill="#000"/>
<rect x="1007" y="319" width="3" height="14" fill="#fff"/>
<rect x="1016" y="316" width="1" height="31" fill="#000"/>
<rect x="1014" y="318" width="5" height="21" fill="#000"/>
<rect x="1024" y="331" width="1" height="20" fill="#000"/>
<rect x="1022" y="337" width="5" height="2" fill="#000"/>
<rect x="1032" y="332" width="1" height="42" fill="#000"/>
<rect x="1030" y="335" width="5" height="32" fill="#000"/>
<rect x="1040" y="364" width="1" height="23" fill="#000"/>
<rect x="1038" y="367" width="5" height="20" fill="#000"/>
<rect x="1048" y="382" width="1" height="15" fill="#000"/>
<rect x="1046" y="386" width="5" height="1" fill="#000"/>
<rect x="1056" y="384" width="1" height="48" fill="#000"/>
<rect x="1054" y="386" width="5" height="32" fill="#000"/>
<rect x="1064" y="381" width="1" height="37" fill="#000"/>
<rect x="1062" y="394" width="5" height="24" fill="#000"/>
<rect x="1063" y="395" width="3" height="22" fill="#fff"/>
<rect x="1072" y="392" width="1" height="30" fill="#000"/>
<rect x="1070" y="394" width="5" height="3" fill="#000"/>
<rect x="1080" y="389" width="1" height="39" fill="#000"/>
<rect x="1078" y="396" width="5" height="20" fill="#000"/>
<rect x="1088" y="414" width="1" height="21" fill="#000"/>
<rect x="1086" y="415" width="5" height="20" fill="#000"/>
<rect x="1096" y="424" width="1" height="12" fill="#000"/>
<rect x="1094" y="424" width="5" height="11" fill="#000"/>
<rect x="1095" y="425" width="3" height="9" fill="#fff"/>
<rect x="1104" y="421" width="1" height="24" fill="#000"/>
<rect x="1102" y="424" width="5" height="3" fill="#000"/>
<rect x="1112" y="395" width="1" height="32" fill="#000"/>
<rect x="1110" y="399" width="5" height="27" fill="#000"/>
<rect x="1111" y="400" width="3" height="25" fill="#fff"/>
<rect x="1120" y="398" width="1" height="20" fill="#000"/>
<rect x="1118" y="399" width="5" height="5" fill="#000"/>
<rect x="1128" y="397" width="1" height="50" fill="#000"/>
<rect x="1126" y="402" width="5" height="34" fill="#000"/>
<rect x="1136" y="407" width="1" height="33" fill="#000"/>
<rect x="1134" y="416" width="5" height="20" fill="#000"/>
<rect x="1135" y="417" width="3" height="18" fill="#fff"/>
<rect x="1144" y="410" width="1" height="9" fill="#000"/>
<rect x="1142" y="415" width="5" height="2" fill="#000"/>
<rect x="1152" y="410" width="1" height="16" fill="#000"/>
<rect x="1150" y="416" width="5" height="4" fill="#000"/>
<rect x="1160" y="397" width="1" height="25" fill="#000"/>
<rect x="1158" y="408" width="5" height="11" fill="#000"/>
<rect x="1159" y="409" width="3" height="9" fill="#fff"/>
<rect x="1168" y="404" width="1" height="65" fill="#000"/>
<rect x="1166" y="408" width="5" height="54" fill="#000"/>
<rect x="1176" y="428" width="1" height="45" fill="#000"/>
<rect x="1174" y="442" width="5" height="20" fill="#000"/>
<rect x="1175" y="443" width="3" height="18" fill="#fff"/>
<rect x="1184" y="436" width="1" height="31" fill="#000"/>
<rect x="1182" y="441" width="5" height="24" fill="#000"/>
<rect x="1192" y="463" width="1" height="9" fill="#000"/>
<rect x="1190" y="468" width="5" height="2" fill="#000"/>
<rect x="1200" y="453" width="1" height="20" fill="#000"/>
<rect x="1198" y="455" width="5" height="14" fill="#000"/>
<rect x="1199" y="456" width="3" height="12" fill="#fff"/>
<rect x="1208" y="439" width="1" height="16" fill="#000"/>
<rect x="1206" y="447" width="5" height="8" fill="#000"/>
<rect x="1207" y="448" width="3" height="6" fill="#fff"/>
<rect x="1216" y="431" width="1" height="23" fill="#000"/>
<rect x="1214" y="438" width="5" height="7" fill="#000"/>
<rect x="1215" y="439" width="3" height="5" fill="#fff"/>
<rect x="1224" y="418" width="1" height="43" fill="#000"/>
<rect x="1222" y="438" width="5" height="11" fill="#000"/>
<rect x="1232" y="445" width="1" height="32" fill="#000"/>
<rect x="1230" y="450" width="5" height="26" fill="#000"/>
<rect x="1240" y="470" width="1" height="12" fill="#000"/>
<rect x="1238" y="473" width="5" height="2" fill="#000"/>
<rect x="1248" y="462" width="1" height="25" fill="#000"/>
<rect x="1246" y="473" width="5" height="2" fill="#000"/>
<rect x="1256" y="467" width="1" height="25" fill="#000"/>
<rect x="1254" y="473" width="5" height="2" fill="#000"/>
<rect x="1264" y="469" width="1" height="24" fill="#000"/>
<rect x="1262" y="474" width="5" height="11" fill="#000"/>
<rect x="1272" y="472" width="1" height="24" fill="#000"/>
<rect x="1270" y="483" width="5" height="2" fill="#000"/>
<rect x="1280" y="475" width="1" height="23" fill="#000"/>
<rect x="1278" y="479" width="5" height="5" fill="#000"/>
<rect x="1279" y="480" width="3" height="3" fill="#fff"/>
<rect x="1288" y="470" width="1" height="12" fill="#000"/>
<rect x="1286" y="477" width="5" height="5" fill="#000"/>
<rect x="1296" y="473" width="1" height="28" fill="#000"/>
<rect x="1294" y="481" width="5" height="18" fill="#000"/>
<rect x="1304" y="478" width="1" height="29" fill="#000"/>
<rect x="1302" y="485" width="5" height="13" fill="#000"/>
<rect x="1303" y="486" width="3" height="11" fill="#fff"/>
<rect x="1312" y="473" width="1" height="24" fill="#000"/>
<rect x="1310" y="487" width="5" height="4" fill="#000"/>
<rect x="1320" y="486" width="1" height="36" fill="#000"/>
<rect x="1318" y="491" width="5" height="26" fill="#000"/>
<rect x="1328" y="504" width="1" height="21" fill="#000"/>
<rect x="1326" y="515" width="5" height="2" fill="#000"/>
<rect x="1336" y="503" width="1" height="13" fill="#000"/>
<rect x="1334" y="504" width="5" height="12" fill="#000"/>
<rect x="1335" y="505" width="3" height="10" fill="#fff"/>
<rect x="1344" y="494" width="1" height="12" fill="#000"/>
<rect x="1342" y="501" width="5" height="3" fill="#000"/>
<rect x="1343" y="502" width="3" height="1" fill="#fff"/>
<rect x="1352" y="495" width="1" height="12" fill="#000"/>
<rect x="1350" y="501" width="5" height="2" fill="#000"/>
<rect x="1360" y="500" width="1" height="30" fill="#000"/>
<rect x="1358" y="502" width="5" height="17" fill="#000"/>
<rect x="1368" y="514" width="1" height="16" fill="#000"/>
<rect x="1366" y="518" width="5" height="2" fill="#000"/>
<rect x="1376" y="516" width="1" height="11" fill="#000"/>
<rect x="1374" y="519" width="5" height="4" fill="#000"/>
<rect x="1384" y="519" width="1" height="7" fill="#000"/>
<rect x="1382" y="521" width="5" height="1" fill="#000"/>
</g>
<rect x="1646.5" y="469.5" width="4" height="4" fill="#fff" stroke="#ff0000" stroke-width="1"/>
<rect x="1646.5" y="490.5" width="4" height="4" fill="#fff" stroke="#ff0000" stroke-width="1"/>
<rect x="1646.5" y="538.5" width="4" height="4" fill="#fff" stroke="#0000ff" stroke-width="1"/>
<rect x="1646.5" y="556.5" width="4" height="4" fill="#fff" stroke="#0000ff" stroke-width="1"/>
<line x1="1106" y1="402.3" x2="1401" y2="522.3" stroke="#ff0000" stroke-width="3"/>
<polygon points="1400.5,517 1395.5,527 1409.5,527" fill="#ff0000"/>
<rect x="1280" y="507" width="149" height="6" fill="#00ff00"/>
<rect x="1179.5" y="498.5" width="73" height="24" fill="#fff" stroke="#ff0000" stroke-width="1"/>
<rect x="1169" y="510" width="8" height="1" fill="#ff0000"/>
<rect x="1176.5" y="508.5" width="2.5" height="3.5" fill="#fff" stroke="#ff0000" stroke-width="1"/>
<text x="1181" y="519" font-size="21.5" fill="#ff0000" text-anchor="start" font-weight="normal" textLength="70" lengthAdjust="spacingAndGlyphs" shape-rendering="auto">0.71950</text>
<rect x="1289.5" y="521.5" width="60" height="18" fill="none" stroke="#ff0000" stroke-width="1"/>
<rect x="1350.5" y="528.5" width="2.5" height="3.5" fill="#fff" stroke="#ff0000" stroke-width="1"/>
<rect x="1353" y="530" width="7" height="1" fill="#ff0000"/>
<text x="1291.5" y="536.2" font-size="16" fill="#ff0000" text-anchor="start" font-weight="normal" textLength="57" lengthAdjust="spacingAndGlyphs" >0.71785</text>
<rect x="1652" y="46" width="2" height="1" fill="#000"/>
<text x="1657" y="50" font-size="10" fill="#000" text-anchor="start" font-weight="normal" textLength="33" lengthAdjust="spacingAndGlyphs" >0.75865</text>
<rect x="1652" y="79" width="2" height="1" fill="#000"/>
<text x="1657" y="83" font-size="10" fill="#000" text-anchor="start" font-weight="normal" textLength="33" lengthAdjust="spacingAndGlyphs" >0.75585</text>
<rect x="1652" y="112" width="2" height="1" fill="#000"/>
<text x="1657" y="116" font-size="10" fill="#000" text-anchor="start" font-weight="normal" textLength="33" lengthAdjust="spacingAndGlyphs" >0.75310</text>
<rect x="1652" y="145" width="2" height="1" fill="#000"/>
<text x="1657" y="149" font-size="10" fill="#000" text-anchor="start" font-weight="normal" textLength="33" lengthAdjust="spacingAndGlyphs" >0.75030</text>
<rect x="1652" y="178" width="2" height="1" fill="#000"/>
<text x="1657" y="182" font-size="10" fill="#000" text-anchor="start" font-weight="normal" textLength="33" lengthAdjust="spacingAndGlyphs" >0.74750</text>
<rect x="1652" y="211" width="2" height="1" fill="#000"/>
<text x="1657" y="215" font-size="10" fill="#000" text-anchor="start" font-weight="normal" textLength="33" lengthAdjust="spacingAndGlyphs" >0.74475</text>
<rect x="1652" y="244" width="2" height="1" fill="#000"/>
<text x="1657" y="248" font-size="10" fill="#000" text-anchor="start" font-weight="normal" textLength="33" lengthAdjust="spacingAndGlyphs" >0.74195</text>
<rect x="1652" y="277" width="2" height="1" fill="#000"/>
<text x="1657" y="281" font-size="10" fill="#000" text-anchor="start" font-weight="normal" textLength="33" lengthAdjust="spacingAndGlyphs" >0.73915</text>
<rect x="1652" y="310" width="2" height="1" fill="#000"/>
<text x="1657" y="314" font-size="10" fill="#000" text-anchor="start" font-weight="normal" textLength="33" lengthAdjust="spacingAndGlyphs" >0.73635</text>
<rect x="1652" y="343" width="2" height="1" fill="#000"/>
<text x="1657" y="347" font-size="10" fill="#000" text-anchor="start" font-weight="normal" textLength="33" lengthAdjust="spacingAndGlyphs" >0.73360</text>
<rect x="1652" y="376" width="2" height="1" fill="#000"/>
<text x="1657" y="380" font-size="10" fill="#000" text-anchor="start" font-weight="normal" textLength="33" lengthAdjust="spacingAndGlyphs" >0.73080</text>
<rect x="1652" y="409" width="2" height="1" fill="#000"/>
<text x="1657" y="413" font-size="10" fill="#000" text-anchor="start" font-weight="normal" textLength="33" lengthAdjust="spacingAndGlyphs" >0.72800</text>
<rect x="1652" y="442" width="2" height="1" fill="#000"/>
<text x="1657" y="446" font-size="10" fill="#000" text-anchor="start" font-weight="normal" textLength="33" lengthAdjust="spacingAndGlyphs" >0.72525</text>
<rect x="1652" y="475" width="2" height="1" fill="#000"/>
<text x="1657" y="479" font-size="10" fill="#000" text-anchor="start" font-weight="normal" textLength="33" lengthAdjust="spacingAndGlyphs" >0.72245</text>
<rect x="1652" y="574" width="2" height="1" fill="#000"/>
<text x="1657" y="578" font-size="10" fill="#000" text-anchor="start" font-weight="normal" textLength="33" lengthAdjust="spacingAndGlyphs" >0.71410</text>
<rect x="1653" y="465" width="41" height="11" fill="#ff0000"/>
<text x="1657" y="474.5" font-size="10" fill="#fff" text-anchor="start" font-weight="normal" textLength="33" lengthAdjust="spacingAndGlyphs" >0.72280</text>
<rect x="1653" y="486" width="41" height="11" fill="#ff0000"/>
<text x="1657" y="495.5" font-size="10" fill="#fff" text-anchor="start" font-weight="normal" textLength="33" lengthAdjust="spacingAndGlyphs" >0.72103</text>
<rect x="1653" y="504" width="41" height="11" fill="#ffa500"/>
<text x="1657" y="513.5" font-size="10" fill="#fff" text-anchor="start" font-weight="normal" textLength="33" lengthAdjust="spacingAndGlyphs" >0.71950</text>
<rect x="1653" y="516" width="41" height="11" fill="#000000"/>
<text x="1657" y="525.5" font-size="10" fill="#fff" text-anchor="start" font-weight="normal" textLength="33" lengthAdjust="spacingAndGlyphs" >0.71858</text>
<rect x="1653" y="534" width="41" height="11" fill="#0000ff"/>
<text x="1657" y="543.5" font-size="10" fill="#fff" text-anchor="start" font-weight="normal" textLength="33" lengthAdjust="spacingAndGlyphs" >0.71696</text>
<rect x="1653" y="552" width="41" height="11" fill="#0000ff"/>
<text x="1657" y="561.5" font-size="10" fill="#fff" text-anchor="start" font-weight="normal" textLength="33" lengthAdjust="spacingAndGlyphs" >0.71546</text>
<defs><linearGradient id="gtab" x1="0" y1="0" x2="0" y2="1"><stop offset="0" stop-color="#5a5aff"/><stop offset="1" stop-color="#3434e6"/></linearGradient><linearGradient id="gbox" x1="0" y1="0" x2="0" y2="1"><stop offset="0" stop-color="#3030e8"/><stop offset="1" stop-color="#0000b4"/></linearGradient><linearGradient id="gbtn" x1="0" y1="0" x2="0" y2="1"><stop offset="0" stop-color="#f2f2f2"/><stop offset="0.45" stop-color="#e6e6e6"/><stop offset="0.5" stop-color="#d8d8d8"/><stop offset="1" stop-color="#d0d0d0"/></linearGradient></defs><rect x="0" y="44" width="47" height="25" fill="#0000a0"/><rect x="0" y="45" width="46" height="23" fill="url(#gtab)"/><rect x="0" y="67" width="43" height="1" fill="#00008a"/><rect x="0" y="68" width="43" height="1" fill="#6a6aff"/><rect x="162" y="44" width="52" height="25" fill="#0000a0"/><rect x="163" y="45" width="50" height="23" fill="url(#gtab)"/><rect x="166" y="67" width="44" height="1" fill="#00008a"/><rect x="166" y="68" width="44" height="1" fill="#6a6aff"/><rect x="0" y="68" width="104" height="33" fill="#0000a0"/><rect x="0" y="69" width="103" height="31" fill="url(#gbox)"/><rect x="106" y="68" width="108" height="33" fill="#0000a0"/><rect x="107" y="69" width="106" height="31" fill="url(#gbox)"/><rect x="0" y="68" width="43" height="1" fill="#00008a"/><rect x="0" y="69" width="43" height="1" fill="#5a5aff"/><rect x="169" y="68" width="41" height="1" fill="#00008a"/><rect x="169" y="69" width="41" height="1" fill="#5a5aff"/><rect x="48" y="44" width="112" height="22" fill="#a8a8a8"/><rect x="49" y="45" width="110" height="20" fill="#fff"/><rect x="49" y="45" width="22" height="20" fill="#b8b8b8"/><rect x="50" y="46" width="20" height="18" fill="url(#gbtn)"/><rect x="138" y="45" width="21" height="20" fill="#b8b8b8"/><rect x="139" y="46" width="20" height="18" fill="url(#gbtn)"/><polygon points="56.5,53 62.5,53 59.5,56" fill="#5a6aa8" shape-rendering="auto"/><polygon points="145.5,56 151.5,56 148.5,53" fill="#5a6aa8" shape-rendering="auto"/><text x="135" y="59.5" font-size="12" text-anchor="end" fill="#000">1.00</text><text x="7.5" y="59.8" font-size="12" fill="#fff" textLength="25.5" lengthAdjust="spacingAndGlyphs">SELL</text><text x="175.5" y="59.8" font-size="12" fill="#fff" textLength="23.5" lengthAdjust="spacingAndGlyphs">BUY</text><g shape-rendering="auto"><text x="15" y="96" font-size="12.5" font-weight="bold" fill="#fff" textLength="23.5" lengthAdjust="spacingAndGlyphs">0.71</text><text x="42.5" y="96" font-size="33" fill="#fff" textLength="34.5" lengthAdjust="spacingAndGlyphs">85</text><text x="82" y="80.3" font-size="12" font-weight="bold" fill="#fff">8</text><text x="124.5" y="96" font-size="12.5" font-weight="bold" fill="#fff" textLength="23.5" lengthAdjust="spacingAndGlyphs">0.71</text><text x="153.5" y="96" font-size="33" fill="#fff" textLength="35" lengthAdjust="spacingAndGlyphs">91</text><text x="193.5" y="80.3" font-size="12" font-weight="bold" fill="#fff">3</text></g>
<polygon points="0,32.5 2.5,35 0,35" fill="#000" shape-rendering="auto"/>
<path d="M47.5,37 L49.5,39 L47.5,41 L45.5,39 Z" fill="none" stroke="#000" stroke-width="0.9" shape-rendering="auto"/>
<text x="7.8" y="36" font-size="10" fill="#000" text-anchor="start" font-weight="normal" textLength="58.2" lengthAdjust="spacingAndGlyphs" >AUDUSD-,H4</text>
<text x="71.9" y="36" font-size="10" fill="#000" text-anchor="start" font-weight="normal" textLength="141.2" lengthAdjust="spacingAndGlyphs" >0.71848 0.71890 0.71828 0.71858</text>
<g clip-path="url(#cmacd)">
<rect x="0" y="617" width="1" height="49" fill="#c0c0c0"/>
<rect x="8" y="621" width="1" height="45" fill="#c0c0c0"/>
<rect x="16" y="628" width="1" height="38" fill="#c0c0c0"/>
<rect x="24" y="629" width="1" height="37" fill="#c0c0c0"/>
<rect x="32" y="630" width="1" height="36" fill="#c0c0c0"/>
<rect x="40" y="632" width="1" height="34" fill="#c0c0c0"/>
<rect x="48" y="627" width="1" height="39" fill="#c0c0c0"/>
<rect x="56" y="621" width="1" height="45" fill="#c0c0c0"/>
<rect x="64" y="616" width="1" height="50" fill="#c0c0c0"/>
<rect x="72" y="610" width="1" height="56" fill="#c0c0c0"/>
<rect x="80" y="608" width="1" height="58" fill="#c0c0c0"/>
<rect x="88" y="606" width="1" height="60" fill="#c0c0c0"/>
<rect x="96" y="603" width="1" height="63" fill="#c0c0c0"/>
<rect x="104" y="601" width="1" height="65" fill="#c0c0c0"/>
<rect x="112" y="602" width="1" height="64" fill="#c0c0c0"/>
<rect x="120" y="598" width="1" height="68" fill="#c0c0c0"/>
<rect x="128" y="594" width="1" height="72" fill="#c0c0c0"/>
<rect x="136" y="593" width="1" height="73" fill="#c0c0c0"/>
<rect x="144" y="589" width="1" height="77" fill="#c0c0c0"/>
<rect x="152" y="595" width="1" height="71" fill="#c0c0c0"/>
<rect x="160" y="600" width="1" height="66" fill="#c0c0c0"/>
<rect x="168" y="605" width="1" height="61" fill="#c0c0c0"/>
<rect x="176" y="614" width="1" height="52" fill="#c0c0c0"/>
<rect x="184" y="623" width="1" height="43" fill="#c0c0c0"/>
<rect x="192" y="627" width="1" height="39" fill="#c0c0c0"/>
<rect x="200" y="627" width="1" height="39" fill="#c0c0c0"/>
<rect x="208" y="627" width="1" height="39" fill="#c0c0c0"/>
<rect x="216" y="634" width="1" height="32" fill="#c0c0c0"/>
<rect x="224" y="640" width="1" height="26" fill="#c0c0c0"/>
<rect x="232" y="644" width="1" height="22" fill="#c0c0c0"/>
<rect x="240" y="644" width="1" height="22" fill="#c0c0c0"/>
<rect x="248" y="642" width="1" height="24" fill="#c0c0c0"/>
<rect x="256" y="643" width="1" height="23" fill="#c0c0c0"/>
<rect x="264" y="643" width="1" height="23" fill="#c0c0c0"/>
<rect x="272" y="643" width="1" height="23" fill="#c0c0c0"/>
<rect x="280" y="644" width="1" height="22" fill="#c0c0c0"/>
<rect x="288" y="641" width="1" height="25" fill="#c0c0c0"/>
<rect x="296" y="642" width="1" height="24" fill="#c0c0c0"/>
<rect x="304" y="640" width="1" height="26" fill="#c0c0c0"/>
<rect x="312" y="641" width="1" height="25" fill="#c0c0c0"/>
<rect x="320" y="641" width="1" height="25" fill="#c0c0c0"/>
<rect x="328" y="640" width="1" height="26" fill="#c0c0c0"/>
<rect x="336" y="638" width="1" height="28" fill="#c0c0c0"/>
<rect x="344" y="638" width="1" height="28" fill="#c0c0c0"/>
<rect x="352" y="640" width="1" height="26" fill="#c0c0c0"/>
<rect x="360" y="640" width="1" height="26" fill="#c0c0c0"/>
<rect x="368" y="639" width="1" height="27" fill="#c0c0c0"/>
<rect x="376" y="643" width="1" height="23" fill="#c0c0c0"/>
<rect x="384" y="644" width="1" height="22" fill="#c0c0c0"/>
<rect x="392" y="644" width="1" height="22" fill="#c0c0c0"/>
<rect x="400" y="643" width="1" height="23" fill="#c0c0c0"/>
<rect x="408" y="638" width="1" height="28" fill="#c0c0c0"/>
<rect x="416" y="635" width="1" height="31" fill="#c0c0c0"/>
<rect x="424" y="636" width="1" height="30" fill="#c0c0c0"/>
<rect x="432" y="633" width="1" height="33" fill="#c0c0c0"/>
<rect x="440" y="632" width="1" height="34" fill="#c0c0c0"/>
<rect x="448" y="633" width="1" height="33" fill="#c0c0c0"/>
<rect x="456" y="639" width="1" height="27" fill="#c0c0c0"/>
<rect x="464" y="641" width="1" height="25" fill="#c0c0c0"/>
<rect x="472" y="645" width="1" height="21" fill="#c0c0c0"/>
<rect x="480" y="650" width="1" height="16" fill="#c0c0c0"/>
<rect x="488" y="657" width="1" height="9" fill="#c0c0c0"/>
<rect x="496" y="658" width="1" height="8" fill="#c0c0c0"/>
<rect x="504" y="655" width="1" height="11" fill="#c0c0c0"/>
<rect x="512" y="656" width="1" height="10" fill="#c0c0c0"/>
<rect x="520" y="656" width="1" height="10" fill="#c0c0c0"/>
<rect x="528" y="660" width="1" height="6" fill="#c0c0c0"/>
<rect x="536" y="665" width="1" height="4" fill="#c0c0c0"/>
<rect x="544" y="665" width="1" height="12" fill="#c0c0c0"/>
<rect x="552" y="665" width="1" height="25" fill="#c0c0c0"/>
<rect x="560" y="665" width="1" height="34" fill="#c0c0c0"/>
<rect x="568" y="665" width="1" height="40" fill="#c0c0c0"/>
<rect x="576" y="665" width="1" height="44" fill="#c0c0c0"/>
<rect x="584" y="665" width="1" height="45" fill="#c0c0c0"/>
<rect x="592" y="665" width="1" height="46" fill="#c0c0c0"/>
<rect x="600" y="665" width="1" height="49" fill="#c0c0c0"/>
<rect x="608" y="665" width="1" height="46" fill="#c0c0c0"/>
<rect x="616" y="665" width="1" height="40" fill="#c0c0c0"/>
<rect x="624" y="665" width="1" height="39" fill="#c0c0c0"/>
<rect x="632" y="665" width="1" height="39" fill="#c0c0c0"/>
<rect x="640" y="665" width="1" height="43" fill="#c0c0c0"/>
<rect x="648" y="665" width="1" height="49" fill="#c0c0c0"/>
<rect x="656" y="665" width="1" height="52" fill="#c0c0c0"/>
<rect x="664" y="665" width="1" height="53" fill="#c0c0c0"/>
<rect x="672" y="665" width="1" height="55" fill="#c0c0c0"/>
<rect x="680" y="665" width="1" height="58" fill="#c0c0c0"/>
<rect x="688" y="665" width="1" height="63" fill="#c0c0c0"/>
<rect x="696" y="665" width="1" height="59" fill="#c0c0c0"/>
<rect x="704" y="665" width="1" height="58" fill="#c0c0c0"/>
<rect x="712" y="665" width="1" height="57" fill="#c0c0c0"/>
<rect x="720" y="665" width="1" height="54" fill="#c0c0c0"/>
<rect x="728" y="665" width="1" height="51" fill="#c0c0c0"/>
<rect x="736" y="665" width="1" height="47" fill="#c0c0c0"/>
<rect x="744" y="665" width="1" height="40" fill="#c0c0c0"/>
<rect x="752" y="665" width="1" height="34" fill="#c0c0c0"/>
<rect x="760" y="665" width="1" height="31" fill="#c0c0c0"/>
<rect x="768" y="665" width="1" height="31" fill="#c0c0c0"/>
<rect x="776" y="665" width="1" height="27" fill="#c0c0c0"/>
<rect x="784" y="665" width="1" height="26" fill="#c0c0c0"/>
<rect x="792" y="665" width="1" height="31" fill="#c0c0c0"/>
<rect x="800" y="665" width="1" height="33" fill="#c0c0c0"/>
<rect x="808" y="665" width="1" height="35" fill="#c0c0c0"/>
<rect x="816" y="665" width="1" height="38" fill="#c0c0c0"/>
<rect x="824" y="665" width="1" height="41" fill="#c0c0c0"/>
<rect x="832" y="665" width="1" height="44" fill="#c0c0c0"/>
<rect x="840" y="665" width="1" height="45" fill="#c0c0c0"/>
<rect x="848" y="665" width="1" height="50" fill="#c0c0c0"/>
<rect x="856" y="665" width="1" height="53" fill="#c0c0c0"/>
<rect x="864" y="665" width="1" height="60" fill="#c0c0c0"/>
<rect x="872" y="665" width="1" height="66" fill="#c0c0c0"/>
<rect x="880" y="665" width="1" height="69" fill="#c0c0c0"/>
<rect x="888" y="665" width="1" height="70" fill="#c0c0c0"/>
<rect x="896" y="665" width="1" height="73" fill="#c0c0c0"/>
<rect x="904" y="665" width="1" height="75" fill="#c0c0c0"/>
<rect x="912" y="665" width="1" height="76" fill="#c0c0c0"/>
<rect x="920" y="665" width="1" height="73" fill="#c0c0c0"/>
<rect x="928" y="665" width="1" height="71" fill="#c0c0c0"/>
<rect x="936" y="665" width="1" height="64" fill="#c0c0c0"/>
<rect x="944" y="665" width="1" height="56" fill="#c0c0c0"/>
<rect x="952" y="665" width="1" height="49" fill="#c0c0c0"/>
<rect x="960" y="665" width="1" height="42" fill="#c0c0c0"/>
<rect x="968" y="665" width="1" height="33" fill="#c0c0c0"/>
<rect x="976" y="665" width="1" height="24" fill="#c0c0c0"/>
<rect x="984" y="665" width="1" height="17" fill="#c0c0c0"/>
<rect x="992" y="665" width="1" height="14" fill="#c0c0c0"/>
<rect x="1000" y="665" width="1" height="12" fill="#c0c0c0"/>
<rect x="1008" y="665" width="1" height="8" fill="#c0c0c0"/>
<rect x="1016" y="665" width="1" height="7" fill="#c0c0c0"/>
<rect x="1024" y="665" width="1" height="7" fill="#c0c0c0"/>
<rect x="1032" y="665" width="1" height="11" fill="#c0c0c0"/>
<rect x="1040" y="665" width="1" height="17" fill="#c0c0c0"/>
<rect x="1048" y="665" width="1" height="22" fill="#c0c0c0"/>
<rect x="1056" y="665" width="1" height="30" fill="#c0c0c0"/>
<rect x="1064" y="665" width="1" height="32" fill="#c0c0c0"/>
<rect x="1072" y="665" width="1" height="34" fill="#c0c0c0"/>
<rect x="1080" y="665" width="1" height="38" fill="#c0c0c0"/>
<rect x="1088" y="665" width="1" height="44" fill="#c0c0c0"/>
<rect x="1096" y="665" width="1" height="46" fill="#c0c0c0"/>
<rect x="1104" y="665" width="1" height="48" fill="#c0c0c0"/>
<rect x="1112" y="665" width="1" height="45" fill="#c0c0c0"/>
<rect x="1120" y="665" width="1" height="42" fill="#c0c0c0"/>
<rect x="1128" y="665" width="1" height="45" fill="#c0c0c0"/>
<rect x="1136" y="665" width="1" height="43" fill="#c0c0c0"/>
<rect x="1144" y="665" width="1" height="41" fill="#c0c0c0"/>
<rect x="1152" y="665" width="1" height="40" fill="#c0c0c0"/>
<rect x="1160" y="665" width="1" height="37" fill="#c0c0c0"/>
<rect x="1168" y="665" width="1" height="42" fill="#c0c0c0"/>
<rect x="1176" y="665" width="1" height="43" fill="#c0c0c0"/>
<rect x="1184" y="665" width="1" height="46" fill="#c0c0c0"/>
<rect x="1192" y="665" width="1" height="49" fill="#c0c0c0"/>
<rect x="1200" y="665" width="1" height="49" fill="#c0c0c0"/>
<rect x="1208" y="665" width="1" height="47" fill="#c0c0c0"/>
<rect x="1216" y="665" width="1" height="43" fill="#c0c0c0"/>
<rect x="1224" y="665" width="1" height="42" fill="#c0c0c0"/>
<rect x="1232" y="665" width="1" height="44" fill="#c0c0c0"/>
<rect x="1240" y="665" width="1" height="45" fill="#c0c0c0"/>
<rect x="1248" y="665" width="1" height="46" fill="#c0c0c0"/>
<rect x="1256" y="665" width="1" height="45" fill="#c0c0c0"/>
<rect x="1264" y="665" width="1" height="46" fill="#c0c0c0"/>
<rect x="1272" y="665" width="1" height="47" fill="#c0c0c0"/>
<rect x="1280" y="665" width="1" height="45" fill="#c0c0c0"/>
<rect x="1288" y="665" width="1" height="44" fill="#c0c0c0"/>
<rect x="1296" y="665" width="1" height="45" fill="#c0c0c0"/>
<rect x="1304" y="665" width="1" height="44" fill="#c0c0c0"/>
<rect x="1312" y="665" width="1" height="43" fill="#c0c0c0"/>
<rect x="1320" y="665" width="1" height="46" fill="#c0c0c0"/>
<rect x="1328" y="665" width="1" height="47" fill="#c0c0c0"/>
<rect x="1336" y="665" width="1" height="46" fill="#c0c0c0"/>
<rect x="1344" y="665" width="1" height="44" fill="#c0c0c0"/>
<rect x="1352" y="665" width="1" height="43" fill="#c0c0c0"/>
<rect x="1360" y="665" width="1" height="43" fill="#c0c0c0"/>
<rect x="1368" y="665" width="1" height="44" fill="#c0c0c0"/>
<rect x="1376" y="665" width="1" height="44" fill="#c0c0c0"/>
<rect x="1384" y="665" width="1" height="43" fill="#c0c0c0"/>
<path d="M967,724h2v1h-2zM636,708h3v1h-3zM642,708h3v1h-3zM648,708h3v1h-3zM769,708h2v1h-2zM1140,708h3v1h-3zM1146,708h3v1h-3zM1152,708h3v1h-3zM1206,708h3v1h-3zM1212,708h3v1h-3zM1218,708h3v1h-3zM1224,708h3v1h-3zM1368,708h3v1h-3zM1374,708h3v1h-3zM1380,708h3v1h-3zM36,618h2v1h-2zM217,618h2v1h-2zM612,704h3v1h-3zM852,704h3v1h-3zM54,623h3v1h-3zM108,612h3v1h-3zM696,716h2v1h-2zM978,716h2v1h-2zM780,703h3v1h-3zM1116,703h2v1h-2zM792,699h2v1h-2zM834,699h3v1h-3zM1104,699h2v1h-2zM60,624h3v1h-3zM66,624h3v1h-3zM72,624h2v1h-2zM720,721h3v1h-3zM558,668h2v1h-2zM270,640h3v1h-3zM348,640h3v1h-3zM354,640h3v1h-3zM360,640h3v1h-3zM366,640h3v1h-3zM372,640h3v1h-3zM378,640h3v1h-3zM384,640h3v1h-3zM420,640h3v1h-3zM426,640h2v1h-2zM672,710h2v1h-2zM1248,710h3v1h-3zM1254,710h3v1h-3zM900,725h3v1h-3zM1038,677h3v1h-3zM1044,677h3v1h-3zM1050,677h2v1h-2zM282,642h3v1h-3zM288,642h3v1h-3zM300,642h3v1h-3zM306,642h3v1h-3zM312,642h3v1h-3zM318,642h3v1h-3zM324,642h3v1h-3zM330,642h2v1h-2zM492,642h2v1h-2zM156,597h3v1h-3zM162,597h2v1h-2zM264,638h2v1h-2zM444,638h3v1h-3zM450,638h2v1h-2zM480,638h2v1h-2zM654,709h3v1h-3zM660,709h3v1h-3zM666,709h2v1h-2zM865,709h2v1h-2zM1230,709h3v1h-3zM1236,709h3v1h-3zM1242,709h2v1h-2zM1260,709h3v1h-3zM1266,709h3v1h-3zM1272,709h3v1h-3zM1278,709h3v1h-3zM1284,709h3v1h-3zM1290,709h3v1h-3zM1296,709h3v1h-3zM1302,709h3v1h-3zM1308,709h3v1h-3zM1314,709h3v1h-3zM1320,709h3v1h-3zM1326,709h3v1h-3zM1332,709h3v1h-3zM1338,709h3v1h-3zM1344,709h3v1h-3zM1350,709h3v1h-3zM1356,709h3v1h-3zM1362,709h2v1h-2zM144,599h3v1h-3zM174,599h3v1h-3zM276,641h2v1h-2zM336,641h3v1h-3zM342,641h3v1h-3zM390,641h3v1h-3zM396,641h3v1h-3zM402,641h3v1h-3zM408,641h3v1h-3zM414,641h3v1h-3zM487,641h2v1h-2zM714,720h2v1h-2zM726,720h3v1h-3zM732,720h3v1h-3zM889,720h2v1h-2zM1056,678h2v1h-2zM912,730h2v1h-2zM954,730h2v1h-2zM804,696h3v1h-3zM810,696h3v1h-3zM816,696h3v1h-3zM961,727h2v1h-2zM618,706h3v1h-3zM858,706h2v1h-2zM1128,706h3v1h-3zM1176,706h3v1h-3zM1182,706h3v1h-3zM30,617h3v1h-3zM96,617h2v1h-2zM522,652h3v1h-3zM775,705h2v1h-2zM1122,705h3v1h-3zM606,701h2v1h-2zM786,701h2v1h-2zM1081,687h2v1h-2zM1020,684h2v1h-2zM1074,684h2v1h-2zM840,700h2v1h-2zM624,707h3v1h-3zM630,707h3v1h-3zM1134,707h3v1h-3zM1158,707h3v1h-3zM1164,707h3v1h-3zM1170,707h2v1h-2zM1188,707h3v1h-3zM1194,707h3v1h-3zM1200,707h3v1h-3zM258,637h3v1h-3zM456,637h3v1h-3zM462,637h3v1h-3zM468,637h3v1h-3zM474,637h2v1h-2zM498,644h2v1h-2zM150,598h3v1h-3zM168,598h3v1h-3zM180,600h2v1h-2zM798,697h3v1h-3zM822,697h3v1h-3zM1099,697h2v1h-2zM432,639h3v1h-3zM438,639h3v1h-3zM708,719h2v1h-2zM738,719h3v1h-3zM12,611h3v1h-3zM205,611h2v1h-2zM1032,679h2v1h-2zM90,619h2v1h-2zM918,732h3v1h-3zM948,732h3v1h-3zM930,734h2v1h-2zM942,734h3v1h-3zM235,629h2v1h-2zM120,607h2v1h-2zM19,614h2v1h-2zM103,614h2v1h-2zM684,713h2v1h-2zM756,713h3v1h-3zM294,643h3v1h-3zM553,665h2v1h-2zM504,646h2v1h-2zM193,605h2v1h-2zM1062,680h3v1h-3zM186,602h2v1h-2zM6,609h3v1h-3zM115,609h2v1h-2zM42,620h3v1h-3zM541,659h2v1h-2zM924,733h2v1h-2zM535,656h2v1h-2zM24,616h3v1h-3zM690,715h3v1h-3zM751,715h2v1h-2zM877,715h2v1h-2zM510,648h3v1h-3zM228,625h2v1h-2zM846,702h3v1h-3zM1111,702h2v1h-2zM678,712h3v1h-3zM871,712h2v1h-2zM132,603h2v1h-2zM570,676h2v1h-2zM601,698h2v1h-2zM828,698h3v1h-3zM582,685h2v1h-2zM882,717h2v1h-2zM1026,681h2v1h-2zM762,711h2v1h-2zM48,621h2v1h-2zM84,621h2v1h-2zM222,621h2v1h-2zM0,608h3v1h-3zM199,608h2v1h-2zM127,604h2v1h-2zM895,723h2v1h-2zM1087,690h2v1h-2zM252,635h2v1h-2zM78,622h3v1h-3zM702,718h3v1h-3zM744,718h2v1h-2zM564,672h2v1h-2zM516,650h3v1h-3zM907,728h2v1h-2zM1068,682h3v1h-3zM1014,688h2v1h-2zM528,653h2v1h-2zM547,662h2v1h-2zM936,735h3v1h-3zM240,631h2v1h-2zM247,634h2v1h-2zM1009,691h2v1h-2zM138,601h2v1h-2zM1092,693h2v1h-2zM686,714h1v1h-1zM876,714h1v1h-1zM864,708h1v1h-1zM1364,708h1v1h-1zM92,618h1v1h-1zM1118,704h1v1h-1zM74,623h1v1h-1zM750,716h1v1h-1zM716,721h1v1h-1zM972,721h1v1h-1zM486,640h1v1h-1zM668,710h1v1h-1zM764,710h1v1h-1zM986,710h1v1h-1zM1244,710h1v1h-1zM966,725h1v1h-1zM572,677h1v1h-1zM278,642h1v1h-1zM476,638h1v1h-1zM768,709h1v1h-1zM332,641h1v1h-1zM710,720h1v1h-1zM973,720h1v1h-1zM1034,678h1v1h-1zM1052,678h1v1h-1zM1003,696h1v1h-1zM1098,696h1v1h-1zM906,727h1v1h-1zM774,706h1v1h-1zM991,706h1v1h-1zM1172,706h1v1h-1zM216,617h1v1h-1zM595,694h1v1h-1zM1094,694h1v1h-1zM992,705h1v1h-1zM842,701h1v1h-1zM997,701h1v1h-1zM1110,701h1v1h-1zM1016,687h1v1h-1zM788,700h1v1h-1zM998,700h1v1h-1zM1106,700h1v1h-1zM860,707h1v1h-1zM990,707h1v1h-1zM452,637h1v1h-1zM164,598h1v1h-1zM140,600h1v1h-1zM600,697h1v1h-1zM1002,697h1v1h-1zM266,639h1v1h-1zM428,639h1v1h-1zM482,639h1v1h-1zM888,719h1v1h-1zM974,719h1v1h-1zM588,689h1v1h-1zM1086,689h1v1h-1zM1058,679h1v1h-1zM38,619h1v1h-1zM926,734h1v1h-1zM198,607h1v1h-1zM211,614h1v1h-1zM494,643h1v1h-1zM126,605h1v1h-1zM576,680h1v1h-1zM1028,680h1v1h-1zM134,602h1v1h-1zM86,620h1v1h-1zM546,661h1v1h-1zM98,616h1v1h-1zM980,715h1v1h-1zM534,655h1v1h-1zM608,702h1v1h-1zM996,702h1v1h-1zM246,633h1v1h-1zM984,712h1v1h-1zM188,603h1v1h-1zM102,615h1v1h-1zM212,615h1v1h-1zM794,698h1v1h-1zM1076,685h1v1h-1zM698,717h1v1h-1zM746,717h1v1h-1zM577,681h1v1h-1zM674,711h1v1h-1zM870,711h1v1h-1zM985,711h1v1h-1zM192,604h1v1h-1zM589,690h1v1h-1zM50,622h1v1h-1zM224,622h1v1h-1zM884,718h1v1h-1zM596,695h1v1h-1zM1004,695h1v1h-1zM960,728h1v1h-1zM578,682h1v1h-1zM18,613h1v1h-1zM210,613h1v1h-1zM506,647h1v1h-1zM932,735h1v1h-1zM540,658h1v1h-1zM590,691h1v1h-1zM182,601h1v1h-1zM594,693h1v1h-1zM122,606h1v1h-1zM254,636h1v1h-1zM894,722h1v1h-1zM114,610h1v1h-1zM204,610h1v1h-1zM584,686h1v1h-1zM1080,686h1v1h-1zM1008,692h1v1h-1zM560,669h1v1h-1zM500,645h1v1h-1zM552,664h1v1h-1zM530,654h1v1h-1zM242,632h1v1h-1zM234,628h1v1h-1zM230,626h1v1h-1zM956,729h1v1h-1zM566,673h1v1h-1zM1022,683h1v1h-1zM914,731h1v1h-1z" fill="#ff0000"/>
</g>
<rect x="1240" y="709" width="85" height="3" fill="#ff0000"/>
<rect x="1325" y="708" width="73" height="3" fill="#ff0000"/>
<polygon points="1397,704 1410,709.5 1397,715" fill="#ff0000"/>
<text x="-1.5" y="591" font-size="10" fill="#000" text-anchor="start" font-weight="normal" textLength="151" lengthAdjust="spacingAndGlyphs" >MACD(12,26,9) -0.001857 -0.001918</text>
<rect x="1652" y="581" width="2" height="1" fill="#000"/>
<text x="1655" y="590" font-size="10" fill="#000" text-anchor="start" font-weight="normal" textLength="38" lengthAdjust="spacingAndGlyphs" >0.003698</text>
<rect x="1652" y="665" width="2" height="1" fill="#000"/>
<text x="1655" y="669" font-size="10" fill="#000" text-anchor="start" font-weight="normal" textLength="17.7" lengthAdjust="spacingAndGlyphs" >0.00</text>
<rect x="1652" y="748" width="2" height="1" fill="#000"/>
<text x="1655" y="746" font-size="10" fill="#000" text-anchor="start" font-weight="normal" textLength="40.5" lengthAdjust="spacingAndGlyphs" >-0.003672</text>
<line x1="0" y1="787.5" x2="1651" y2="787.5" stroke="#c0c0c0" stroke-width="1" stroke-dasharray="3 3" stroke-dashoffset="1"/>
<line x1="0" y1="838.5" x2="1651" y2="838.5" stroke="#c0c0c0" stroke-width="1" stroke-dasharray="3 3" stroke-dashoffset="1"/>
<line x1="0" y1="899.5" x2="1651" y2="899.5" stroke="#c0c0c0" stroke-width="1" stroke-dasharray="3 3" stroke-dashoffset="1"/>
<g clip-path="url(#crsi)">
<path d="M322,828h2v1h-2zM345,828h2v1h-2zM357,828h2v1h-2zM390,828h2v1h-2zM979,828h2v1h-2zM261,830h2v1h-2zM268,830h8v1h-8zM317,830h2v1h-2zM349,830h2v1h-2zM353,830h2v1h-2zM970,830h2v1h-2zM983,830h2v1h-2zM412,817h3v1h-3zM60,801h5v1h-5zM80,801h2v1h-2zM90,801h2v1h-2zM103,801h2v1h-2zM698,855h2v1h-2zM722,855h2v1h-2zM1203,855h2v1h-2zM996,838h3v1h-3zM246,826h2v1h-2zM327,826h3v1h-3zM341,826h2v1h-2zM362,826h4v1h-4zM396,826h5v1h-5zM559,868h5v1h-5zM648,868h2v1h-2zM671,868h3v1h-3zM927,868h2v1h-2zM1364,868h8v1h-8zM1380,868h5v1h-5zM176,839h9v1h-9zM230,839h3v1h-3zM999,839h2v1h-2zM220,841h6v1h-6zM524,841h2v1h-2zM746,841h4v1h-4zM958,841h2v1h-2zM1020,841h5v1h-5zM4,824h5v1h-5zM31,824h10v1h-10zM166,824h3v1h-3zM332,824h3v1h-3zM337,824h2v1h-2zM599,866h2v1h-2zM644,866h2v1h-2zM654,866h4v1h-4zM667,866h2v1h-2zM826,866h4v1h-4zM834,866h4v1h-4zM923,866h2v1h-2zM1292,866h2v1h-2zM122,795h4v1h-4zM129,795h2v1h-2zM718,856h4v1h-4zM1201,856h2v1h-2zM864,882h12v1h-12zM900,882h6v1h-6zM28,823h3v1h-3zM152,823h4v1h-4zM162,823h4v1h-4zM200,823h2v1h-2zM335,823h2v1h-2zM377,836h2v1h-2zM468,836h2v1h-2zM992,836h2v1h-2zM564,867h13v1h-13zM646,867h2v1h-2zM650,867h4v1h-4zM669,867h2v1h-2zM830,867h4v1h-4zM925,867h2v1h-2zM1082,867h2v1h-2zM1092,867h2v1h-2zM1360,867h4v1h-4zM855,873h2v1h-2zM216,842h4v1h-4zM744,842h2v1h-2zM754,842h2v1h-2zM956,842h2v1h-2zM1016,842h4v1h-4zM628,853h2v1h-2zM727,853h3v1h-3zM1136,853h12v1h-12zM1207,853h2v1h-2zM1223,853h2v1h-2zM540,859h3v1h-3zM584,859h2v1h-2zM704,859h4v1h-4zM796,859h3v1h-3zM802,859h4v1h-4zM1068,859h5v1h-5zM1304,859h2v1h-2zM1342,859h6v1h-6zM383,833h2v1h-2zM758,845h2v1h-2zM948,845h5v1h-5zM597,865h2v1h-2zM658,865h4v1h-4zM665,865h2v1h-2zM822,865h4v1h-4zM838,865h3v1h-3zM920,865h3v1h-3zM1100,865h5v1h-5zM1168,865h2v1h-2zM1263,865h10v1h-10zM595,864h2v1h-2zM641,864h2v1h-2zM662,864h3v1h-3zM818,864h4v1h-4zM1078,864h2v1h-2zM1096,864h4v1h-4zM1188,864h5v1h-5zM1261,864h2v1h-2zM1273,864h2v1h-2zM1356,864h2v1h-2zM630,854h2v1h-2zM696,854h2v1h-2zM724,854h3v1h-3zM1148,854h5v1h-5zM1205,854h2v1h-2zM259,831h2v1h-2zM276,831h5v1h-5zM315,831h2v1h-2zM351,831h2v1h-2zM386,831h2v1h-2zM381,834h2v1h-2zM465,834h2v1h-2zM508,834h2v1h-2zM543,860h2v1h-2zM586,860h2v1h-2zM794,860h2v1h-2zM806,860h4v1h-4zM1180,860h2v1h-2zM1196,860h2v1h-2zM1306,860h4v1h-4zM1338,860h4v1h-4zM1348,860h5v1h-5zM436,819h5v1h-5zM226,840h4v1h-4zM474,840h2v1h-2zM750,840h3v1h-3zM625,851h2v1h-2zM734,851h3v1h-3zM1114,851h4v1h-4zM1211,851h2v1h-2zM1219,851h2v1h-2zM591,862h2v1h-2zM812,862h3v1h-3zM1040,862h9v1h-9zM1232,862h4v1h-4zM1257,862h2v1h-2zM1277,862h2v1h-2zM1284,862h5v1h-5zM257,832h2v1h-2zM313,832h2v1h-2zM986,832h2v1h-2zM65,800h2v1h-2zM78,800h2v1h-2zM101,800h2v1h-2zM68,798h2v1h-2zM94,798h2v1h-2zM97,798h2v1h-2zM134,798h2v1h-2zM470,837h2v1h-2zM512,837h9v1h-9zM994,837h2v1h-2zM76,799h2v1h-2zM99,799h2v1h-2zM588,861h3v1h-3zM792,861h2v1h-2zM810,861h2v1h-2zM1074,861h2v1h-2zM1236,861h21v1h-21zM1279,861h5v1h-5zM1310,861h3v1h-3zM1336,861h2v1h-2zM241,829h2v1h-2zM263,829h5v1h-5zM319,829h3v1h-3zM347,829h2v1h-2zM355,829h2v1h-2zM981,829h2v1h-2zM593,863h2v1h-2zM815,863h3v1h-3zM1184,863h4v1h-4zM1259,863h2v1h-2zM1275,863h2v1h-2zM244,827h2v1h-2zM324,827h3v1h-3zM343,827h2v1h-2zM359,827h3v1h-3zM392,827h4v1h-4zM974,827h2v1h-2zM977,827h2v1h-2zM554,870h2v1h-2zM678,870h3v1h-3zM1086,870h2v1h-2zM620,847h2v1h-2zM782,847h2v1h-2zM942,847h2v1h-2zM484,848h2v1h-2zM940,848h2v1h-2zM876,883h5v1h-5zM906,883h4v1h-4zM188,835h2v1h-2zM379,835h2v1h-2zM990,835h2v1h-2zM536,857h2v1h-2zM714,857h4v1h-4zM730,852h4v1h-4zM1118,852h3v1h-3zM1154,852h2v1h-2zM1209,852h2v1h-2zM1221,852h2v1h-2zM538,858h2v1h-2zM702,858h2v1h-2zM708,858h6v1h-6zM799,858h3v1h-3zM1064,858h4v1h-4zM56,802h4v1h-4zM82,802h4v1h-4zM889,877h2v1h-2zM778,844h2v1h-2zM953,844h2v1h-2zM26,822h2v1h-2zM156,822h6v1h-6zM202,822h4v1h-4zM852,874h3v1h-3zM896,881h4v1h-4zM764,850h2v1h-2zM937,850h2v1h-2zM1112,850h2v1h-2zM1213,850h2v1h-2zM1217,850h2v1h-2zM884,879h2v1h-2zM892,879h2v1h-2zM54,803h2v1h-2zM86,803h3v1h-3zM106,803h2v1h-2zM556,869h3v1h-3zM674,869h4v1h-4zM1372,869h8v1h-8zM410,816h2v1h-2zM478,843h2v1h-2zM682,872h2v1h-2zM126,794h3v1h-3zM142,794h3v1h-3zM944,846h4v1h-4zM408,815h2v1h-2zM24,821h2v1h-2zM206,821h3v1h-3zM0,825h4v1h-4zM330,825h2v1h-2zM339,825h2v1h-2zM366,825h3v1h-3zM415,818h2v1h-2zM432,818h4v1h-4zM552,871h2v1h-2zM1320,871h9v1h-9zM70,797h2v1h-2zM73,797h2v1h-2zM132,797h2v1h-2zM138,797h2v1h-2zM894,880h2v1h-2zM1158,849h3v1h-3zM1215,849h2v1h-2zM49,806h2v1h-2zM110,806h2v1h-2zM120,796h2v1h-2zM52,804h2v1h-2zM848,876h2v1h-2zM686,875h3v1h-3zM850,875h2v1h-2zM910,884h3v1h-3zM51,805h1v1h-1zM109,805h1v1h-1zM113,805h1v2h-1zM147,803h1v4h-1zM10,827h1v2h-1zM21,827h1v3h-1zM170,827h1v2h-1zM196,827h1v2h-1zM211,828h1v3h-1zM243,828h1v1h-1zM251,828h1v1h-1zM282,828h1v2h-1zM293,828h1v1h-1zM300,828h1v1h-1zM308,828h1v2h-1zM370,828h1v1h-1zM449,828h1v2h-1zM973,828h1v1h-1zM11,829h1v2h-1zM20,830h1v2h-1zM171,829h1v2h-1zM194,830h1v1h-1zM240,830h1v1h-1zM253,830h1v1h-1zM281,830h1v1h-1zM295,830h1v2h-1zM298,830h1v1h-1zM309,830h1v1h-1zM371,829h1v2h-1zM388,830h1v1h-1zM450,830h1v2h-1zM504,830h1v1h-1zM43,817h1v2h-1zM150,814h1v4h-1zM407,816h1v2h-1zM116,801h1v2h-1zM146,799h1v4h-1zM535,855h1v2h-1zM606,854h1v2h-1zM632,855h1v1h-1zM695,855h1v3h-1zM788,854h1v2h-1zM934,855h1v2h-1zM1033,855h1v1h-1zM1109,855h1v2h-1zM1122,855h1v1h-1zM1134,855h1v2h-1zM1163,854h1v2h-1zM1226,855h1v1h-1zM15,837h1v2h-1zM17,837h1v2h-1zM175,837h1v2h-1zM185,838h1v1h-1zM214,836h1v3h-1zM233,838h1v1h-1zM454,838h1v2h-1zM460,837h1v2h-1zM472,838h1v1h-1zM496,838h1v1h-1zM521,838h1v1h-1zM962,838h1v1h-1zM1001,838h1v1h-1zM1013,838h1v1h-1zM9,825h1v2h-1zM22,825h1v2h-1zM169,825h1v2h-1zM197,826h1v1h-1zM210,825h1v3h-1zM249,826h1v1h-1zM284,826h1v1h-1zM292,826h1v2h-1zM302,826h1v1h-1zM306,826h1v1h-1zM369,826h1v2h-1zM424,826h1v1h-1zM447,826h1v1h-1zM976,826h1v1h-1zM550,868h1v1h-1zM691,866h1v3h-1zM842,868h1v1h-1zM918,868h1v3h-1zM1053,868h1v1h-1zM1058,867h1v2h-1zM1084,868h1v1h-1zM1091,868h1v1h-1zM1295,868h1v1h-1zM1297,868h1v1h-1zM1318,868h1v2h-1zM1330,868h1v2h-1zM16,839h1v2h-1zM215,839h1v2h-1zM459,839h1v1h-1zM473,839h1v1h-1zM495,839h1v2h-1zM522,839h1v1h-1zM961,839h1v1h-1zM1014,839h1v1h-1zM216,841h1v1h-1zM455,840h1v2h-1zM457,841h1v1h-1zM476,841h1v1h-1zM494,841h1v2h-1zM753,841h1v1h-1zM1015,840h1v2h-1zM23,823h1v2h-1zM199,824h1v1h-1zM209,823h1v2h-1zM286,823h1v2h-1zM290,824h1v1h-1zM304,824h1v1h-1zM401,824h1v2h-1zM422,824h1v1h-1zM426,824h1v1h-1zM445,824h1v1h-1zM548,865h1v2h-1zM577,866h1v1h-1zM841,866h1v2h-1zM919,866h1v2h-1zM929,865h1v2h-1zM1052,866h1v2h-1zM1059,866h1v1h-1zM1081,866h1v1h-1zM1094,866h1v1h-1zM1168,866h1v1h-1zM1298,866h1v2h-1zM1316,866h1v1h-1zM1332,866h1v1h-1zM1359,866h1v1h-1zM141,795h1v1h-1zM145,795h1v4h-1zM605,856h1v2h-1zM633,856h1v1h-1zM700,856h1v1h-1zM789,856h1v1h-1zM1034,856h1v1h-1zM1123,856h1v1h-1zM1164,856h1v3h-1zM1176,856h1v1h-1zM1227,856h1v1h-1zM881,882h1v1h-1zM913,881h1v2h-1zM40,823h1v1h-1zM289,822h1v2h-1zM402,823h1v1h-1zM421,823h1v1h-1zM427,823h1v1h-1zM444,823h1v1h-1zM14,835h1v2h-1zM18,835h1v2h-1zM174,835h1v2h-1zM187,836h1v1h-1zM235,836h1v1h-1zM375,835h1v2h-1zM453,836h1v2h-1zM461,836h1v1h-1zM498,836h1v1h-1zM511,836h1v1h-1zM964,836h1v1h-1zM1003,836h1v1h-1zM1012,836h1v2h-1zM549,867h1v1h-1zM928,867h1v1h-1zM1294,867h1v1h-1zM1317,867h1v1h-1zM1331,867h1v1h-1zM684,873h1v1h-1zM689,872h1v3h-1zM846,873h1v1h-1zM916,873h1v3h-1zM456,842h1v1h-1zM477,842h1v1h-1zM526,842h1v1h-1zM776,842h1v1h-1zM1025,842h1v2h-1zM534,853h1v2h-1zM607,852h1v2h-1zM696,853h1v1h-1zM768,853h1v1h-1zM787,853h1v1h-1zM935,853h1v2h-1zM1031,852h1v2h-1zM1110,853h1v2h-1zM1121,853h1v2h-1zM1153,853h1v1h-1zM1162,852h1v2h-1zM604,858h1v2h-1zM636,859h1v1h-1zM694,858h1v3h-1zM791,859h1v2h-1zM932,859h1v2h-1zM1037,859h1v1h-1zM1063,859h1v2h-1zM1107,859h1v2h-1zM1125,859h1v1h-1zM1131,859h1v1h-1zM1165,859h1v2h-1zM1174,858h1v2h-1zM1179,859h1v1h-1zM1198,859h1v1h-1zM1229,859h1v1h-1zM13,833h1v2h-1zM19,832h1v3h-1zM173,833h1v2h-1zM191,833h1v1h-1zM213,833h1v3h-1zM237,833h1v1h-1zM256,833h1v1h-1zM312,833h1v1h-1zM373,832h1v2h-1zM451,832h1v2h-1zM464,833h1v1h-1zM501,833h1v1h-1zM507,833h1v1h-1zM967,833h1v1h-1zM988,833h1v1h-1zM1006,833h1v1h-1zM1009,832h1v2h-1zM481,845h1v1h-1zM492,844h1v2h-1zM529,845h1v2h-1zM614,845h1v1h-1zM618,845h1v1h-1zM741,845h1v1h-1zM774,845h1v1h-1zM780,845h1v1h-1zM1026,844h1v2h-1zM578,865h1v1h-1zM601,864h1v2h-1zM643,865h1v1h-1zM692,864h1v2h-1zM1051,865h1v1h-1zM1060,864h1v2h-1zM1080,865h1v1h-1zM1095,865h1v1h-1zM1291,865h1v1h-1zM1299,865h1v1h-1zM1315,865h1v1h-1zM1333,865h1v1h-1zM1358,865h1v1h-1zM547,864h1v1h-1zM579,864h1v1h-1zM920,864h1v1h-1zM930,863h1v2h-1zM1050,864h1v1h-1zM1105,863h1v2h-1zM1167,863h1v2h-1zM1170,863h1v2h-1zM1290,864h1v1h-1zM1300,864h1v1h-1zM1314,863h1v2h-1zM1334,863h1v2h-1zM1032,854h1v1h-1zM1135,854h1v1h-1zM1225,854h1v1h-1zM12,831h1v2h-1zM172,831h1v2h-1zM193,831h1v1h-1zM212,831h1v2h-1zM239,831h1v1h-1zM254,831h1v1h-1zM297,831h1v1h-1zM310,831h1v1h-1zM372,831h1v1h-1zM503,831h1v1h-1zM505,831h1v1h-1zM969,831h1v1h-1zM985,831h1v1h-1zM1008,831h1v1h-1zM190,834h1v1h-1zM236,834h1v2h-1zM374,834h1v1h-1zM452,834h1v2h-1zM463,834h1v1h-1zM500,834h1v1h-1zM966,834h1v1h-1zM989,834h1v1h-1zM1005,834h1v1h-1zM1010,834h1v1h-1zM583,860h1v1h-1zM603,860h1v2h-1zM637,860h1v1h-1zM1038,860h1v1h-1zM1073,860h1v1h-1zM1126,860h1v1h-1zM1130,860h1v2h-1zM1173,860h1v1h-1zM1230,860h1v1h-1zM1303,860h1v1h-1zM42,819h1v2h-1zM151,818h1v4h-1zM405,819h1v1h-1zM417,819h1v1h-1zM431,819h1v1h-1zM458,840h1v1h-1zM523,840h1v1h-1zM960,840h1v1h-1zM488,851h1v1h-1zM532,850h1v2h-1zM608,851h1v1h-1zM766,851h1v1h-1zM769,851h1v2h-1zM786,851h1v2h-1zM936,851h1v2h-1zM1030,850h1v2h-1zM1111,851h1v2h-1zM1156,851h1v1h-1zM1161,850h1v2h-1zM545,861h1v2h-1zM581,862h1v1h-1zM602,862h1v2h-1zM639,862h1v1h-1zM693,861h1v3h-1zM931,861h1v2h-1zM1062,861h1v2h-1zM1076,862h1v1h-1zM1106,861h1v2h-1zM1127,861h1v2h-1zM1129,862h1v1h-1zM1166,861h1v2h-1zM1171,862h1v1h-1zM1183,862h1v1h-1zM1194,862h1v1h-1zM1302,861h1v2h-1zM1313,862h1v1h-1zM1335,862h1v1h-1zM1354,862h1v1h-1zM192,832h1v1h-1zM238,832h1v1h-1zM255,832h1v1h-1zM296,832h1v1h-1zM311,832h1v1h-1zM385,832h1v1h-1zM502,832h1v1h-1zM506,832h1v1h-1zM968,832h1v1h-1zM1007,832h1v1h-1zM92,800h1v1h-1zM117,800h1v1h-1zM75,798h1v1h-1zM119,797h1v2h-1zM137,798h1v1h-1zM186,837h1v1h-1zM234,837h1v1h-1zM376,837h1v1h-1zM497,837h1v1h-1zM963,837h1v1h-1zM1002,837h1v1h-1zM67,799h1v1h-1zM93,799h1v1h-1zM118,799h1v1h-1zM136,799h1v1h-1zM582,861h1v1h-1zM638,861h1v1h-1zM1039,861h1v1h-1zM1172,861h1v1h-1zM1182,861h1v1h-1zM1195,861h1v1h-1zM1231,861h1v1h-1zM1353,861h1v1h-1zM195,829h1v1h-1zM252,829h1v1h-1zM294,829h1v1h-1zM299,829h1v1h-1zM389,829h1v1h-1zM972,829h1v1h-1zM546,863h1v1h-1zM580,863h1v1h-1zM640,863h1v1h-1zM1049,863h1v1h-1zM1061,863h1v1h-1zM1077,863h1v1h-1zM1128,863h1v1h-1zM1193,863h1v1h-1zM1289,863h1v1h-1zM1301,863h1v1h-1zM1355,863h1v1h-1zM250,827h1v1h-1zM283,827h1v1h-1zM301,827h1v1h-1zM307,827h1v1h-1zM448,827h1v1h-1zM551,869h1v2h-1zM690,869h1v3h-1zM844,870h1v2h-1zM1055,870h1v1h-1zM1057,869h1v2h-1zM1089,870h1v1h-1zM1319,870h1v1h-1zM1329,870h1v1h-1zM48,807h1v2h-1zM112,807h1v1h-1zM148,807h1v3h-1zM483,847h1v1h-1zM490,847h1v2h-1zM530,847h1v2h-1zM612,847h1v1h-1zM740,846h1v2h-1zM761,847h1v1h-1zM772,847h1v2h-1zM1028,847h1v2h-1zM611,848h1v1h-1zM622,848h1v1h-1zM739,848h1v1h-1zM762,848h1v1h-1zM784,848h1v1h-1zM1160,848h1v1h-1zM912,883h1v1h-1zM462,835h1v1h-1zM467,835h1v1h-1zM499,835h1v1h-1zM510,835h1v1h-1zM965,835h1v1h-1zM1004,835h1v1h-1zM1011,835h1v1h-1zM634,857h1v1h-1zM701,857h1v1h-1zM790,857h1v2h-1zM933,857h1v2h-1zM1035,857h1v1h-1zM1108,857h1v2h-1zM1124,857h1v2h-1zM1133,857h1v1h-1zM1175,857h1v1h-1zM1177,857h1v1h-1zM1200,857h1v1h-1zM1228,857h1v2h-1zM533,852h1v1h-1zM627,852h1v1h-1zM767,852h1v1h-1zM635,858h1v1h-1zM1036,858h1v1h-1zM1132,858h1v1h-1zM1178,858h1v1h-1zM1199,858h1v1h-1zM89,802h1v1h-1zM105,802h1v1h-1zM860,877h1v2h-1zM887,877h1v1h-1zM915,876h1v2h-1zM480,844h1v1h-1zM528,844h1v1h-1zM615,844h1v1h-1zM617,844h1v1h-1zM742,844h1v1h-1zM757,844h1v1h-1zM775,843h1v2h-1zM47,809h1v2h-1zM24,822h1v1h-1zM41,821h1v2h-1zM152,822h1v1h-1zM208,822h1v1h-1zM287,822h1v1h-1zM403,822h1v1h-1zM420,822h1v1h-1zM428,822h1v1h-1zM443,822h1v1h-1zM685,874h1v1h-1zM847,874h1v2h-1zM857,874h1v1h-1zM863,881h1v1h-1zM882,881h1v1h-1zM487,850h1v1h-1zM489,849h1v2h-1zM609,850h1v1h-1zM624,850h1v1h-1zM737,850h1v1h-1zM770,850h1v1h-1zM785,849h1v2h-1zM1157,850h1v1h-1zM861,879h1v1h-1zM914,878h1v3h-1zM115,803h1v1h-1zM46,811h1v2h-1zM149,810h1v4h-1zM843,869h1v1h-1zM1054,869h1v1h-1zM1085,869h1v1h-1zM1090,869h1v1h-1zM1296,869h1v1h-1zM44,815h1v2h-1zM493,843h1v1h-1zM527,843h1v1h-1zM616,843h1v1h-1zM743,843h1v1h-1zM756,843h1v1h-1zM777,843h1v1h-1zM955,843h1v1h-1zM845,872h1v1h-1zM917,871h1v2h-1zM482,846h1v1h-1zM491,846h1v1h-1zM613,846h1v1h-1zM619,846h1v1h-1zM760,846h1v1h-1zM773,846h1v1h-1zM781,846h1v1h-1zM1027,846h1v1h-1zM886,878h1v1h-1zM891,878h1v1h-1zM288,821h1v1h-1zM404,820h1v2h-1zM419,821h1v1h-1zM429,821h1v1h-1zM442,821h1v1h-1zM198,825h1v1h-1zM248,825h1v1h-1zM285,825h1v1h-1zM291,825h1v1h-1zM303,825h1v1h-1zM305,825h1v1h-1zM423,825h1v1h-1zM425,825h1v1h-1zM446,825h1v1h-1zM406,818h1v1h-1zM45,813h1v2h-1zM681,871h1v1h-1zM1056,871h1v1h-1zM1088,871h1v1h-1zM96,797h1v1h-1zM862,880h1v1h-1zM883,880h1v1h-1zM486,849h1v1h-1zM531,849h1v1h-1zM610,849h1v1h-1zM623,849h1v1h-1zM738,849h1v1h-1zM763,849h1v1h-1zM771,849h1v1h-1zM939,849h1v1h-1zM1029,849h1v1h-1zM72,796h1v1h-1zM131,796h1v1h-1zM140,796h1v1h-1zM108,804h1v1h-1zM114,804h1v1h-1zM418,820h1v1h-1zM430,820h1v1h-1zM441,820h1v1h-1zM688,876h1v1h-1zM859,876h1v1h-1zM888,876h1v1h-1zM858,875h1v1h-1zM144,793h1v1h-1z" fill="#1e90ff"/>
</g>
<line x1="1272" y1="867.4" x2="1378" y2="864.6" stroke="#ff0000" stroke-width="3"/>
<polygon points="1376,859.5 1388,864.5 1376,869.5" fill="#ff0000"/>
<text x="-2.5" y="764" font-size="10" fill="#000" text-anchor="start" font-weight="normal" textLength="66" lengthAdjust="spacingAndGlyphs" >RSI(14) 32.6749</text>
<rect x="1652" y="752" width="2" height="1" fill="#000"/>
<rect x="1652" y="787" width="2" height="1" fill="#000"/>
<rect x="1652" y="839" width="2" height="1" fill="#000"/>
<rect x="1652" y="900" width="2" height="1" fill="#000"/>
<rect x="1652" y="926" width="2" height="1" fill="#000"/>
<text x="1655" y="762" font-size="10" fill="#000" text-anchor="start" font-weight="normal" textLength="15.18" lengthAdjust="spacingAndGlyphs" >100</text>
<text x="1655" y="791" font-size="10" fill="#000" text-anchor="start" font-weight="normal" textLength="10.12" lengthAdjust="spacingAndGlyphs" >80</text>
<text x="1655" y="842" font-size="10" fill="#000" text-anchor="start" font-weight="normal" textLength="10.12" lengthAdjust="spacingAndGlyphs" >50</text>
<text x="1655" y="903" font-size="10" fill="#000" text-anchor="start" font-weight="normal" textLength="10.12" lengthAdjust="spacingAndGlyphs" >15</text>
<text x="1655" y="922" font-size="10" fill="#000" text-anchor="start" font-weight="normal" textLength="5.06" lengthAdjust="spacingAndGlyphs" >0</text>
<text x="41" y="938" font-size="10" fill="#000" text-anchor="end" font-weight="normal" textLength="50.4" lengthAdjust="spacingAndGlyphs" >17 Oct 2021</text>
<rect x="56" y="926" width="1" height="4" fill="#000"/>
<text x="56" y="938" font-size="10" fill="#000" text-anchor="start" font-weight="normal" textLength="52.97" lengthAdjust="spacingAndGlyphs" >19 Oct 04:00</text>
<rect x="120" y="926" width="1" height="4" fill="#000"/>
<text x="120" y="938" font-size="10" fill="#000" text-anchor="start" font-weight="normal" textLength="52.97" lengthAdjust="spacingAndGlyphs" >20 Oct 12:00</text>
<rect x="184" y="926" width="1" height="4" fill="#000"/>
<text x="184" y="938" font-size="10" fill="#000" text-anchor="start" font-weight="normal" textLength="52.97" lengthAdjust="spacingAndGlyphs" >21 Oct 20:00</text>
<rect x="248" y="926" width="1" height="4" fill="#000"/>
<text x="248" y="938" font-size="10" fill="#000" text-anchor="start" font-weight="normal" textLength="52.97" lengthAdjust="spacingAndGlyphs" >25 Oct 04:00</text>
<rect x="312" y="926" width="1" height="4" fill="#000"/>
<text x="312" y="938" font-size="10" fill="#000" text-anchor="start" font-weight="normal" textLength="52.97" lengthAdjust="spacingAndGlyphs" >26 Oct 12:00</text>
<rect x="376" y="926" width="1" height="4" fill="#000"/>
<text x="376" y="938" font-size="10" fill="#000" text-anchor="start" font-weight="normal" textLength="52.97" lengthAdjust="spacingAndGlyphs" >27 Oct 20:00</text>
<rect x="440" y="926" width="1" height="4" fill="#000"/>
<text x="440" y="938" font-size="10" fill="#000" text-anchor="start" font-weight="normal" textLength="52.97" lengthAdjust="spacingAndGlyphs" >29 Oct 04:00</text>
<rect x="504" y="926" width="1" height="4" fill="#000"/>
<text x="504" y="938" font-size="10" fill="#000" text-anchor="start" font-weight="normal" textLength="49.88" lengthAdjust="spacingAndGlyphs" >1 Nov 12:00</text>
<rect x="568" y="926" width="1" height="4" fill="#000"/>
<text x="568" y="938" font-size="10" fill="#000" text-anchor="start" font-weight="normal" textLength="49.88" lengthAdjust="spacingAndGlyphs" >2 Nov 20:00</text>
<rect x="632" y="926" width="1" height="4" fill="#000"/>
<text x="632" y="938" font-size="10" fill="#000" text-anchor="start" font-weight="normal" textLength="49.88" lengthAdjust="spacingAndGlyphs" >4 Nov 04:00</text>
<rect x="696" y="926" width="1" height="4" fill="#000"/>
<text x="696" y="938" font-size="10" fill="#000" text-anchor="start" font-weight="normal" textLength="49.88" lengthAdjust="spacingAndGlyphs" >5 Nov 12:00</text>
<rect x="760" y="926" width="1" height="4" fill="#000"/>
<text x="760" y="938" font-size="10" fill="#000" text-anchor="start" font-weight="normal" textLength="49.88" lengthAdjust="spacingAndGlyphs" >8 Nov 20:00</text>
<rect x="824" y="926" width="1" height="4" fill="#000"/>
<text x="824" y="938" font-size="10" fill="#000" text-anchor="start" font-weight="normal" textLength="55.03" lengthAdjust="spacingAndGlyphs" >10 Nov 04:00</text>
<rect x="888" y="926" width="1" height="4" fill="#000"/>
<text x="888" y="938" font-size="10" fill="#000" text-anchor="start" font-weight="normal" textLength="54.34" lengthAdjust="spacingAndGlyphs" >11 Nov 12:00</text>
<rect x="952" y="926" width="1" height="4" fill="#000"/>
<text x="952" y="938" font-size="10" fill="#000" text-anchor="start" font-weight="normal" textLength="55.03" lengthAdjust="spacingAndGlyphs" >14 Nov 23:00</text>
<rect x="1016" y="926" width="1" height="4" fill="#000"/>
<text x="1016" y="938" font-size="10" fill="#000" text-anchor="start" font-weight="normal" textLength="55.03" lengthAdjust="spacingAndGlyphs" >16 Nov 04:00</text>
<rect x="1080" y="926" width="1" height="4" fill="#000"/>
<text x="1080" y="938" font-size="10" fill="#000" text-anchor="start" font-weight="normal" textLength="55.03" lengthAdjust="spacingAndGlyphs" >17 Nov 12:00</text>
<rect x="1144" y="926" width="1" height="4" fill="#000"/>
<text x="1144" y="938" font-size="10" fill="#000" text-anchor="start" font-weight="normal" textLength="55.03" lengthAdjust="spacingAndGlyphs" >18 Nov 20:00</text>
<rect x="1208" y="926" width="1" height="4" fill="#000"/>
<text x="1208" y="938" font-size="10" fill="#000" text-anchor="start" font-weight="normal" textLength="55.03" lengthAdjust="spacingAndGlyphs" >22 Nov 04:00</text>
<rect x="1272" y="926" width="1" height="4" fill="#000"/>
<text x="1272" y="938" font-size="10" fill="#000" text-anchor="start" font-weight="normal" textLength="55.03" lengthAdjust="spacingAndGlyphs" >23 Nov 12:00</text>
<rect x="1336" y="926" width="1" height="4" fill="#000"/>
<text x="1336" y="938" font-size="10" fill="#000" text-anchor="start" font-weight="normal" textLength="55.03" lengthAdjust="spacingAndGlyphs" >24 Nov 20:00</text>
</svg>
</body></html>
